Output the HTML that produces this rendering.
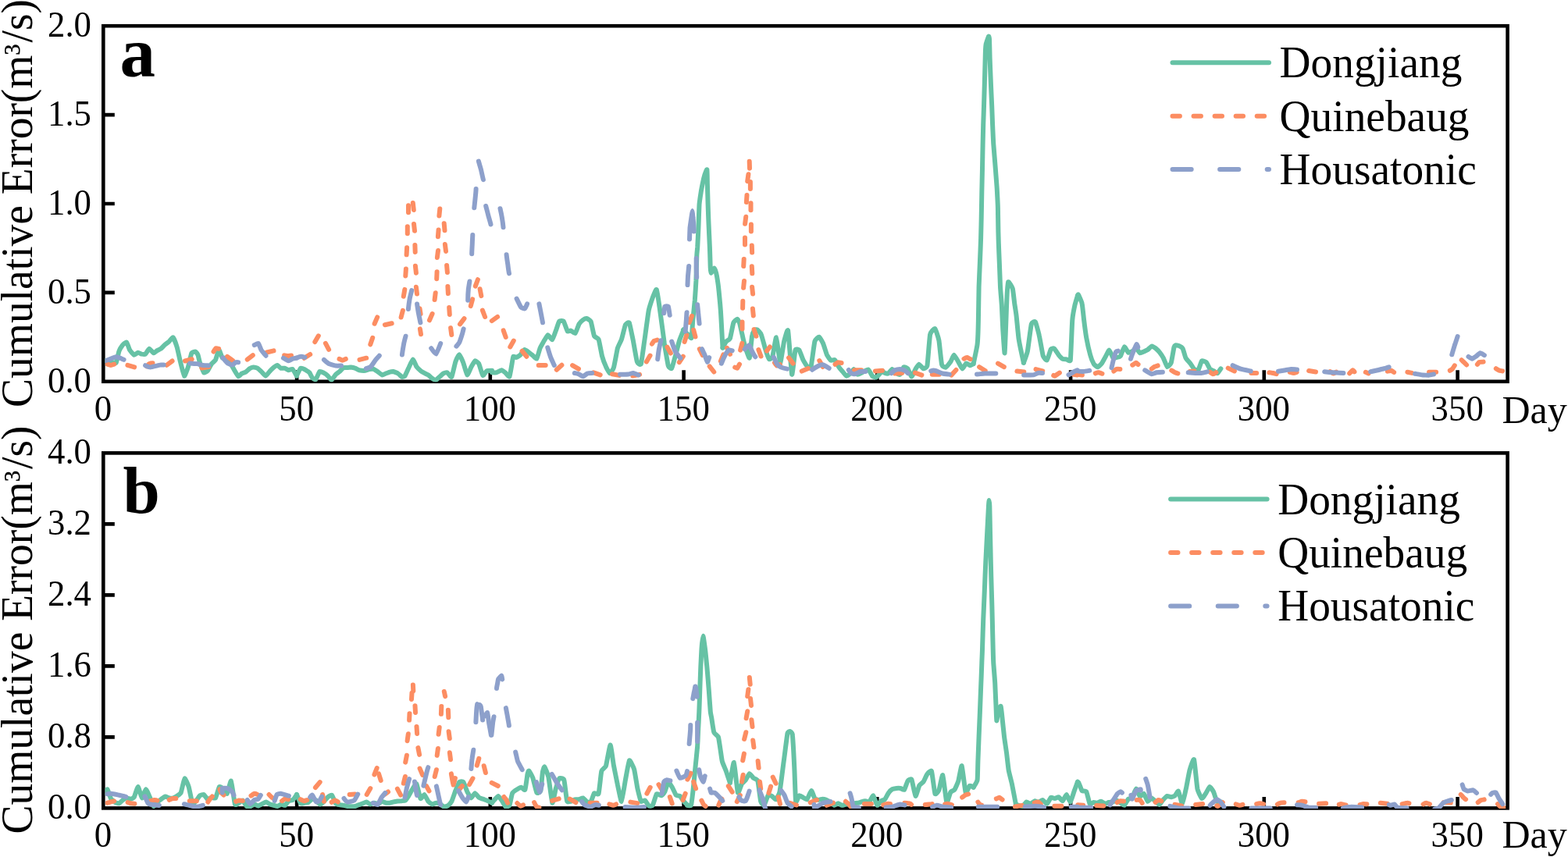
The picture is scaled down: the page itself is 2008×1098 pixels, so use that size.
<!DOCTYPE html>
<html lang="en">
<head>
<meta charset="utf-8">
<title>Cumulative Error</title>
<style>
html,body{margin:0;padding:0;background:#fff;}
body{width:2008px;height:1098px;overflow:hidden;}
svg{display:block;}
text{font-family:"Liberation Serif",serif;fill:#000;}
.tk{font-size:45.5px;}
.lg{font-size:57.2px;}
.ax{font-size:58px;}
.dy{font-size:51.5px;}
.pl{font-size:85px;font-weight:bold;}
.ln{fill:none;stroke-width:6.0;stroke-linecap:round;stroke-linejoin:round;}
.g{stroke:#66c2a5;}
.o{stroke:#fc8d62;}
.b{stroke:#8da0cb;}
.fr{fill:none;stroke:#000;stroke-width:4.6;}
</style>
</head>
<body>
<svg width="2008" height="1098" viewBox="0 0 2008 1098">
<rect x="0" y="0" width="2008" height="1098" fill="#fff"/>
<g id="panel-a">
<path class="fr" d="M380.1 488.8 V474.3 M627.8 488.8 V474.3 M875.6 488.8 V474.3 M1123.3 488.8 V474.3 M1371.1 488.8 V474.3 M1618.8 488.8 V474.3 M1866.6 488.8 V474.3 M132.3 374.9 H146.8 M132.3 261.0 H146.8 M132.3 147.1 H146.8"/>
<rect class="fr" x="132.3" y="33.2" width="1798.3" height="455.6"/>
<clipPath id="clip-a"><rect x="134.6" y="33.2" width="1793.7" height="456.2"/></clipPath>
<g clip-path="url(#clip-a)">
<path class="ln g" d="M132.4 461.7 C132.8 461.7 136.6 462.1 137.5 462.3 C138.3 462.5 142.9 464.0 143.7 464.2 C144.6 464.4 148.1 465.9 148.7 464.8 C149.4 463.7 151.8 451.5 152.5 449.8 C153.1 448.2 156.1 443.2 156.8 442.3 C157.6 441.5 161.5 438.1 162.2 438.6 C162.9 439.1 165.5 447.4 166.2 448.6 C166.9 449.8 171.0 454.6 171.8 454.8 C172.6 455.1 176.1 451.8 176.8 451.7 C177.5 451.6 180.4 453.4 181.1 453.6 C181.8 453.7 185.4 454.3 186.1 453.8 C186.9 453.3 190.3 446.8 191.1 446.7 C191.9 446.6 196.0 452.1 196.7 452.3 C197.5 452.5 200.4 449.6 201.1 449.2 C201.8 448.8 205.3 447.3 206.1 446.7 C206.8 446.2 210.3 442.4 211.1 441.7 C211.8 441.1 215.3 438.7 216.1 438.0 C216.9 437.3 220.9 431.9 221.7 432.4 C222.5 432.9 226.0 442.5 226.7 444.8 C227.4 447.2 230.3 460.8 231.0 463.6 C231.7 466.3 235.3 481.2 236.0 481.7 C236.8 482.1 240.3 472.0 241.0 469.8 C241.7 467.6 244.7 453.8 245.4 452.3 C246.1 450.9 249.8 450.3 250.4 450.5 C251.0 450.6 253.1 453.8 253.5 454.8 C253.9 455.9 255.4 463.1 256.0 464.8 C256.6 466.5 260.2 476.5 261.0 477.3 C261.7 478.0 265.2 475.6 266.0 474.8 C266.7 473.9 270.2 467.1 271.0 466.1 C271.7 465.0 275.3 462.4 276.0 461.1 C276.7 459.7 279.7 448.2 280.3 448.0 C281.0 447.8 284.0 457.8 284.7 458.6 C285.4 459.4 288.9 458.1 289.7 458.6 C290.4 459.0 293.9 463.7 294.7 464.8 C295.4 465.9 298.9 472.2 299.7 473.5 C300.5 474.9 304.5 481.9 305.3 482.3 C306.0 482.7 308.9 479.0 309.6 478.5 C310.3 478.1 313.9 477.1 314.6 476.7 C315.4 476.2 318.9 472.8 319.6 472.3 C320.4 471.8 323.9 470.5 324.6 470.4 C325.4 470.4 328.9 471.3 329.6 471.7 C330.3 472.1 333.8 475.3 334.6 476.0 C335.4 476.8 339.4 481.7 340.2 481.7 C341.0 481.7 344.4 476.8 345.2 476.0 C345.9 475.2 349.4 471.7 350.2 471.0 C350.9 470.4 354.5 467.9 355.2 467.9 C355.9 468.0 358.8 471.4 359.5 471.7 C360.2 472.0 363.8 471.5 364.5 471.7 C365.3 471.9 368.8 474.1 369.5 474.2 C370.3 474.3 373.7 472.4 374.5 472.9 C375.3 473.5 379.6 481.0 380.0 481.7"/>
<path class="ln g" d="M380.0 481.0 C380.4 480.3 384.2 472.2 385.0 471.7 C385.8 471.1 389.8 473.1 390.6 473.5 C391.4 474.0 395.5 476.5 396.2 477.3 C396.9 478.1 399.4 483.5 400.0 484.1 C400.6 484.8 403.6 486.9 404.3 486.3 C405.0 485.7 408.5 476.7 409.3 476.0 C410.1 475.4 414.1 477.5 414.9 477.9 C415.7 478.3 419.2 481.0 419.9 481.7 C420.6 482.3 423.8 487.0 424.5 486.9 C425.3 486.8 429.1 480.6 429.9 479.8 C430.7 479.0 434.1 476.7 434.9 476.0 C435.6 475.4 439.1 471.4 439.9 471.0 C440.6 470.7 444.2 471.1 444.9 471.0 C445.6 471.0 448.5 470.4 449.2 470.4 C450.0 470.5 454.1 471.4 454.9 471.7 C455.6 472.0 458.9 473.9 459.8 474.2 C460.8 474.4 466.9 474.9 467.9 474.8 C469.0 474.7 472.8 473.1 473.6 472.9 C474.4 472.8 477.8 472.7 478.6 472.9 C479.3 473.2 482.7 475.5 483.5 476.0 C484.3 476.6 488.4 480.2 489.2 480.4 C490.0 480.6 493.4 478.8 494.1 478.5 C494.9 478.3 498.4 476.8 499.1 476.7 C499.8 476.5 502.7 475.9 503.5 476.0 C504.3 476.2 508.9 478.0 509.7 478.5 C510.6 479.0 514.1 482.7 514.7 482.9 C515.4 483.1 517.8 482.5 518.5 481.7 C519.1 480.8 522.7 472.6 523.5 471.0 C524.2 469.5 528.0 460.5 528.7 460.4 C529.5 460.3 532.7 468.7 533.4 469.8 C534.2 470.9 537.7 474.2 538.4 474.8 C539.2 475.4 542.7 477.5 543.4 477.9 C544.2 478.3 547.7 479.9 548.4 480.4 C549.2 480.9 552.7 484.3 553.4 484.8 C554.1 485.3 557.4 487.0 558.1 486.9 C558.8 486.8 562.0 483.5 562.8 482.9 C563.5 482.3 567.0 479.0 567.7 478.5 C568.5 478.1 571.9 477.0 572.7 477.3 C573.5 477.6 577.6 483.9 578.4 482.9 C579.1 481.9 582.6 465.7 583.3 463.6 C584.1 461.4 587.3 454.1 588.1 454.2 C588.8 454.3 592.6 462.8 593.3 464.8 C594.1 466.8 597.6 480.0 598.3 480.4 C599.1 480.8 602.6 471.8 603.3 470.4 C604.1 469.1 607.5 462.6 608.3 462.3 C609.0 462.0 612.5 464.7 613.3 466.1 C614.0 467.5 617.5 480.3 618.3 481.0 C619.0 481.7 622.4 475.9 623.3 475.4 C624.1 474.9 629.5 474.8 630.0 474.8"/>
<path class="ln g" d="M630.0 477.3 C630.4 477.3 634.7 477.5 635.6 477.3 C636.5 477.1 641.6 474.1 642.5 474.2 C643.4 474.2 646.7 477.3 647.5 477.9 C648.2 478.5 651.8 483.4 652.5 482.5 C653.1 481.6 655.2 468.0 655.6 466.1 C655.9 464.1 657.0 457.3 657.4 456.7 C657.9 456.1 660.5 458.1 661.2 457.9 C661.8 457.8 665.4 455.6 666.2 454.8 C667.0 454.1 670.9 448.2 671.8 448.0 C672.6 447.7 676.6 451.1 677.4 451.7 C678.2 452.3 681.6 454.9 682.4 455.5 C683.1 456.0 686.7 460.2 687.4 459.4 C688.1 458.7 691.0 447.2 691.8 445.5 C692.5 443.8 696.0 438.0 696.7 436.7 C697.5 435.5 700.9 429.4 701.7 429.2 C702.5 429.1 706.6 435.6 707.3 435.1 C708.1 434.6 711.7 424.1 712.3 422.4 C713.0 420.6 715.4 412.6 716.1 411.8 C716.8 411.0 720.9 410.6 721.7 411.5 C722.5 412.5 726.0 423.4 726.7 424.3 C727.4 425.2 730.3 423.4 731.0 423.6 C731.8 423.8 735.9 427.7 736.7 427.0 C737.5 426.3 740.9 416.2 741.7 414.9 C742.4 413.6 745.9 410.4 746.6 409.9 C747.3 409.4 750.3 407.9 751.0 408.0 C751.8 408.2 755.9 410.1 756.6 411.8 C757.4 413.5 760.2 428.8 761.0 430.5 C761.7 432.2 765.9 432.9 766.6 434.9 C767.4 436.8 770.3 453.5 771.0 456.1 C771.7 458.7 775.2 468.1 776.0 469.8 C776.7 471.5 780.2 478.1 780.9 478.2 C781.7 478.3 785.2 473.5 785.9 471.0 C786.7 468.6 790.2 448.8 790.9 446.1 C791.7 443.4 795.2 437.1 795.9 434.9 C796.7 432.6 800.2 417.7 800.9 416.1 C801.7 414.6 805.1 412.1 805.9 413.7 C806.6 415.2 810.1 433.0 810.9 436.7 C811.6 440.5 815.1 461.3 815.9 463.6 C816.6 465.7 820.2 468.5 820.9 466.3 C821.6 464.0 825.1 437.5 825.9 432.4 C826.6 427.2 830.1 401.3 830.8 397.4 C831.6 393.6 835.1 383.2 835.8 381.2 C836.6 379.2 840.1 369.6 840.8 371.2 C841.6 372.8 845.1 397.3 845.8 402.4 C846.6 407.6 850.1 434.9 850.8 439.9 C851.6 444.8 855.1 466.1 855.8 468.6 C856.4 470.7 859.5 473.0 860.2 471.9 C860.9 470.9 864.4 457.5 865.2 454.8 C865.9 452.1 869.4 438.5 870.1 436.1 C870.9 433.7 875.1 423.4 875.5 422.4"/>
<path class="ln g" d="M875.0 422.5 C875.4 422.9 879.7 427.2 880.5 428.0 C881.3 428.8 885.0 434.4 885.5 433.0 C886.0 431.6 887.0 413.4 887.3 409.8 C887.6 406.2 889.5 388.5 889.8 384.8 C890.1 381.1 891.2 364.2 891.4 359.9 C891.6 355.6 892.2 330.6 892.3 327.4 C892.4 324.2 893.0 319.6 893.2 317.0 C893.4 314.4 894.2 296.5 894.4 292.3 C894.6 288.1 895.3 264.7 895.6 261.1 C895.9 257.5 897.6 246.9 897.9 244.9 C898.2 242.9 899.5 236.4 899.8 234.9 C900.1 233.4 901.9 225.8 902.3 224.5 C902.7 223.2 905.1 216.4 905.4 217.3 C905.7 218.2 905.8 232.8 905.9 236.1 C906.0 239.4 906.5 257.4 906.6 261.1 C906.7 264.8 907.3 281.8 907.5 286.0 C907.7 290.2 908.7 312.8 908.9 317.0 C909.1 321.2 909.6 339.9 909.7 342.4 C909.8 344.9 910.2 349.8 910.6 349.9 C911.0 350.0 914.2 343.6 914.7 343.6 C915.2 343.6 916.8 348.3 917.2 349.9 C917.6 351.5 919.3 361.9 919.7 364.9 C920.1 367.9 921.9 386.5 922.2 389.8 C922.5 393.1 923.3 404.3 923.5 408.5 C923.7 412.7 925.4 442.7 925.5 445.5"/>
<path class="ln g" d="M925.5 445.5 C925.9 444.9 929.2 438.2 929.9 437.4 C930.6 436.5 934.2 435.4 934.9 433.6 C935.6 431.8 938.6 415.5 939.3 413.7 C940.0 411.8 943.6 408.6 944.2 408.7 C944.9 408.8 946.9 413.4 947.4 414.9 C947.8 416.4 949.9 426.3 950.5 428.6 C951.0 431.0 954.1 443.8 954.9 446.1 C955.6 448.3 959.2 459.7 959.8 458.6 C960.4 457.4 962.5 433.8 963.0 431.1 C963.4 428.5 965.6 423.7 966.1 423.0 C966.6 422.4 969.2 422.0 969.8 422.4 C970.5 422.8 974.1 426.8 974.8 428.6 C975.6 430.4 979.1 443.8 979.8 446.1 C980.5 448.4 984.1 459.0 984.8 459.8 C985.5 460.7 988.5 459.2 989.2 457.3 C989.9 455.3 993.4 431.8 994.1 432.4 C994.9 432.9 998.4 464.4 999.1 464.8 C999.9 465.2 1003.4 440.4 1004.1 437.4 C1004.9 434.3 1008.4 420.5 1009.1 423.6 C1009.9 426.8 1013.4 477.9 1014.1 479.8 C1014.8 481.7 1017.8 450.9 1018.5 448.6 C1019.0 446.7 1022.7 447.7 1023.5 448.6 C1024.2 449.5 1027.7 459.5 1028.5 461.1 C1029.2 462.7 1033.3 469.1 1034.1 469.8 C1034.8 470.5 1037.9 472.8 1038.4 471.0 C1039.1 468.6 1042.6 440.3 1043.4 437.4 C1044.2 434.4 1048.2 431.6 1049.0 431.7 C1049.8 431.9 1053.3 438.1 1054.0 439.9 C1054.8 441.6 1058.3 453.2 1059.0 454.8 C1059.8 456.5 1063.3 461.2 1064.0 461.7 C1064.8 462.2 1068.2 460.5 1069.0 461.1 C1069.7 461.7 1073.2 468.7 1074.0 469.8 C1074.7 470.9 1078.2 475.1 1079.0 476.0 C1079.7 476.9 1083.2 481.5 1084.0 481.7 C1084.7 481.8 1088.3 479.2 1089.0 478.5 C1089.7 477.9 1092.6 472.8 1093.3 472.9 C1094.0 473.0 1097.5 479.5 1098.3 479.8 C1099.1 480.1 1102.9 477.8 1103.9 477.3 C1105.0 476.8 1111.1 473.2 1112.0 473.5 C1113.0 473.9 1116.3 480.9 1117.0 481.7 C1117.8 482.4 1121.3 483.8 1122.0 483.5 C1122.8 483.3 1126.4 479.1 1127.0 478.5 C1127.6 477.9 1129.8 475.6 1130.0 475.4"/>
<path class="ln g" d="M1130.0 475.4 C1130.2 475.6 1132.6 477.7 1133.1 477.9 C1133.7 478.1 1136.8 478.9 1137.5 478.5 C1138.2 478.2 1141.7 473.0 1142.5 472.9 C1143.2 472.9 1146.7 477.4 1147.5 477.9 C1148.2 478.4 1151.7 480.3 1152.5 479.8 C1153.2 479.2 1156.7 471.0 1157.4 470.4 C1158.2 469.9 1161.7 471.4 1162.4 472.3 C1163.2 473.2 1166.7 482.5 1167.4 482.5 C1168.2 482.6 1171.7 474.1 1172.4 472.9 C1173.1 471.7 1176.0 466.7 1176.8 466.7 C1177.5 466.6 1181.6 472.2 1182.4 472.3 C1183.2 472.4 1186.9 471.0 1187.4 468.6 C1188.0 465.3 1190.4 432.2 1191.1 428.6 C1191.9 425.1 1196.5 420.6 1197.4 421.1 C1198.2 421.7 1201.7 432.6 1202.4 436.1 C1203.0 439.6 1205.4 464.7 1206.1 467.3 C1206.7 469.6 1210.2 471.0 1211.1 470.7 C1211.9 470.4 1216.5 464.7 1217.3 463.6 C1218.1 462.4 1220.9 454.8 1221.7 454.8 C1222.4 454.8 1226.5 462.2 1227.3 463.6 C1228.1 464.9 1231.5 472.4 1232.3 472.5 C1233.0 472.7 1236.5 465.8 1237.3 465.4 C1238.0 465.1 1241.6 468.1 1242.3 468.2 C1243.0 468.2 1246.3 466.2 1246.6 466.1"/>
<path class="ln g" d="M1246.6 466.0 C1247.0 464.1 1251.1 445.3 1251.6 441.1 C1252.1 436.9 1252.8 415.4 1252.9 409.9 C1253.1 404.4 1253.4 372.8 1253.6 367.3 C1253.8 361.8 1254.7 340.8 1254.9 336.1 C1255.1 331.4 1256.0 309.2 1256.1 305.0 C1256.2 300.8 1256.6 284.3 1256.7 280.0 C1256.8 275.7 1257.2 252.1 1257.3 247.3 C1257.4 242.5 1257.9 220.7 1258.0 216.0 C1258.1 211.3 1258.5 189.2 1258.6 185.0 C1258.7 180.8 1259.1 163.7 1259.2 160.0 C1259.3 156.3 1259.9 140.1 1260.0 136.0 C1260.1 131.9 1260.8 110.0 1260.9 105.0 C1261.0 100.0 1261.7 73.6 1261.8 70.0 C1261.9 66.4 1262.3 58.8 1262.6 57.0 C1262.9 55.2 1265.8 47.1 1266.1 46.6 C1266.4 46.1 1266.9 48.6 1267.0 50.0 C1267.1 52.0 1267.5 69.6 1267.6 73.7 C1267.7 77.8 1268.6 100.2 1268.8 104.9 C1269.0 109.6 1270.0 131.9 1270.2 136.0 C1270.4 140.1 1270.9 156.3 1271.1 160.0 C1271.3 163.7 1272.0 180.8 1272.3 185.0 C1272.6 189.2 1274.5 211.9 1274.8 216.1 C1275.1 220.3 1276.5 237.4 1276.7 241.1 C1276.9 244.8 1277.8 261.8 1277.9 266.0 C1278.0 270.2 1278.3 293.6 1278.4 297.0 C1278.5 300.4 1278.7 308.3 1278.8 311.2 C1278.9 314.1 1279.6 331.9 1279.8 336.1 C1280.0 340.3 1280.8 363.1 1281.0 367.3 C1281.2 371.5 1282.7 388.2 1282.9 392.3 C1283.1 396.4 1284.0 417.9 1284.3 422.4 C1284.6 426.9 1286.3 453.4 1286.6 452.5 C1286.9 451.6 1288.2 415.3 1288.4 409.9 C1288.6 404.5 1289.3 383.7 1289.5 380.0 C1289.7 376.3 1290.7 362.0 1291.2 361.2 C1291.7 360.4 1296.2 367.7 1296.8 369.9 C1297.4 372.1 1299.0 387.4 1299.4 390.0 C1299.8 392.6 1301.2 401.4 1301.6 404.8 C1302.0 408.2 1304.0 430.4 1304.7 434.9 C1305.4 439.4 1310.4 462.6 1310.9 464.8"/>
<path class="ln g" d="M1310.9 464.8 C1311.3 463.7 1315.1 453.6 1315.9 449.8 C1316.6 446.1 1320.1 417.7 1320.9 414.9 C1321.4 412.7 1325.1 411.3 1325.9 412.4 C1326.6 413.5 1330.1 426.6 1330.8 429.9 C1331.6 433.1 1335.1 453.7 1335.8 456.1 C1336.6 458.4 1340.1 462.0 1340.8 461.3 C1341.6 460.7 1345.1 448.4 1345.8 447.3 C1346.5 446.2 1349.4 446.2 1350.2 446.7 C1350.9 447.3 1355.0 453.8 1355.8 454.8 C1356.6 455.8 1360.0 459.4 1360.8 459.8 C1361.5 460.2 1365.0 460.3 1365.8 460.4 C1366.5 460.6 1370.5 463.7 1370.8 461.7 C1371.3 457.9 1372.8 415.2 1373.3 409.9 C1373.7 404.6 1375.9 393.5 1376.4 391.2 C1376.9 388.9 1379.7 379.7 1380.0 378.7"/>
<path class="ln g" d="M1380.0 378.7 C1380.1 378.6 1380.6 376.9 1380.9 377.5 C1381.3 378.2 1385.1 386.3 1385.6 388.7 C1386.2 391.1 1387.7 406.6 1388.1 409.9 C1388.5 413.2 1390.6 429.0 1391.2 432.4 C1391.8 435.7 1395.5 452.3 1396.2 454.8 C1396.9 457.4 1399.9 464.9 1400.6 466.1 C1401.3 467.2 1404.8 470.3 1405.6 470.3 C1406.3 470.3 1409.8 467.0 1410.6 466.1 C1411.3 465.1 1414.8 458.6 1415.6 457.3 C1416.3 456.0 1419.8 448.5 1420.5 448.6 C1421.3 448.7 1424.8 457.9 1425.5 458.6 C1426.3 459.3 1429.8 458.1 1430.5 457.9 C1431.2 457.8 1434.2 457.1 1434.9 456.1 C1435.6 455.0 1439.1 444.5 1439.9 444.2 C1440.6 443.9 1444.1 451.3 1444.9 451.7 C1445.7 452.1 1449.7 450.3 1450.5 449.8 C1451.2 449.4 1454.1 445.9 1454.9 446.1 C1455.6 446.3 1459.1 452.0 1459.8 452.3 C1460.6 452.7 1464.1 450.8 1464.8 450.5 C1465.6 450.1 1469.1 448.5 1469.8 448.0 C1470.6 447.4 1474.1 443.7 1474.8 443.6 C1475.6 443.5 1479.1 445.5 1479.8 446.1 C1480.5 446.7 1484.0 450.1 1484.8 451.1 C1485.5 452.0 1489.0 457.1 1489.8 458.6 C1490.5 460.0 1494.0 469.6 1494.8 470.0 C1495.5 470.5 1499.1 466.7 1499.8 464.8 C1500.4 462.9 1503.1 446.5 1503.5 444.8 C1503.8 443.6 1504.9 442.5 1505.4 442.3 C1505.8 442.2 1509.0 442.6 1509.7 443.0 C1510.4 443.3 1514.1 445.5 1514.7 446.7 C1515.4 447.9 1517.7 457.1 1518.5 458.6 C1519.2 460.0 1523.9 464.9 1524.7 466.1 C1525.6 467.2 1529.0 473.0 1529.7 473.5 C1530.4 474.1 1534.0 474.4 1534.7 473.5 C1535.4 472.7 1538.3 463.0 1539.1 462.3 C1539.8 461.6 1543.9 463.4 1544.7 464.2 C1545.5 465.0 1548.9 472.1 1549.7 472.9 C1550.4 473.8 1553.9 475.0 1554.7 475.4 C1555.4 475.8 1558.4 478.4 1559.0 478.2 C1559.7 477.9 1563.1 472.7 1563.4 472.3"/>
<path class="ln o" d="M137.5 466.7 C137.8 466.8 141.2 467.9 141.9 467.9 C142.5 467.9 145.9 466.8 146.2 466.7"/>
<path class="ln o" d="M163.4 467.9 L172.1 470.4"/>
<path class="ln o" d="M187.9 469.3 C188.2 469.0 190.6 466.4 191.1 466.1 C191.7 465.8 195.2 465.3 195.5 465.3"/>
<path class="ln o" d="M213.4 467.8 L220.6 462.5"/>
<path class="ln o" d="M237.0 462.5 L245.7 460.2"/>
<path class="ln o" d="M258.4 471.5 L267.3 470.0"/>
<path class="ln o" d="M273.5 450.5 C273.7 450.2 276.1 446.4 276.6 446.1 C277.1 445.8 279.8 446.8 280.1 446.9"/>
<path class="ln o" d="M291.1 456.8 L298.3 462.2"/>
<path class="ln o" d="M316.7 460.7 L323.8 455.2"/>
<path class="ln o" d="M341.7 451.5 L350.5 449.4"/>
<path class="ln o" d="M364.1 455.2 C364.4 455.2 367.6 456.0 368.3 456.1 C368.9 456.1 372.7 455.6 373.0 455.6"/>
<path class="ln o" d="M389.6 458.8 L397.2 454.0"/>
<path class="ln o" d="M403.3 438.1 L407.8 430.3"/>
<path class="ln o" d="M416.9 439.9 L421.1 447.9"/>
<path class="ln o" d="M434.5 459.9 C434.8 460.0 438.0 461.7 438.6 461.7 C439.3 461.7 442.5 460.0 442.8 459.9"/>
<path class="ln o" d="M460.5 460.9 L469.2 458.7"/>
<path class="ln o" d="M474.3 441.3 L477.2 432.8"/>
<path class="ln o" d="M479.6 414.7 L483.2 406.4"/>
<path class="ln o" d="M492.9 416.2 L501.7 414.3"/>
<path class="ln o" d="M513.6 406.5 L515.9 397.8"/>
<path class="ln o" d="M516.8 379.7 L518.3 370.9"/>
<path class="ln o" d="M532.9 367.7 L534.0 376.6"/>
<path class="ln o" d="M537.5 395.2 L538.6 402.1"/>
<path class="ln o" d="M537.9 421.4 L539.0 428.3"/>
<path class="ln o" d="M550.0 410.3 L553.6 402.0"/>
<path class="ln o" d="M556.6 384.1 L557.7 375.2"/>
<path class="ln o" d="M573.4 367.0 L573.9 376.0"/>
<path class="ln o" d="M575.2 393.9 L575.8 402.9"/>
<path class="ln o" d="M577.1 420.1 L578.3 429.0"/>
<path class="ln o" d="M589.0 415.3 L594.5 408.2"/>
<path class="ln o" d="M602.8 392.1 L605.1 383.4"/>
<path class="ln o" d="M614.6 370.2 L616.3 379.1"/>
<path class="ln o" d="M617.9 397.6 L621.1 406.0"/>
<path class="ln o" d="M519.3 353.4 L519.9 344.5"/>
<path class="ln o" d="M520.6 326.3 L521.1 317.3"/>
<path class="ln o" d="M531.4 313.9 L531.7 322.9"/>
<path class="ln o" d="M531.9 340.7 L532.9 349.7"/>
<path class="ln o" d="M559.2 357.2 L559.6 348.2"/>
<path class="ln o" d="M559.9 330.0 L561.0 321.1"/>
<path class="ln o" d="M569.9 313.0 L571.0 321.9"/>
<path class="ln o" d="M572.1 340.1 L572.9 349.1"/>
<path class="ln o" d="M608.8 366.6 L611.9 358.2"/>
<path class="ln o" d="M629.8 411.1 L637.1 405.9"/>
<path class="ln o" d="M523.0 263.2 L523.0 272.2"/>
<path class="ln o" d="M528.8 260.1 L529.8 269.0"/>
<path class="ln o" d="M521.8 290.3 L521.8 299.3"/>
<path class="ln o" d="M530.0 286.9 L531.0 295.8"/>
<path class="ln o" d="M563.3 267.5 L562.4 276.5"/>
<path class="ln o" d="M568.7 286.3 L569.5 295.2"/>
<path class="ln o" d="M561.6 294.4 L560.9 303.3"/>
<path class="ln o" d="M644.7 423.4 L647.7 431.9"/>
<path class="ln o" d="M653.3 444.4 L657.8 436.6"/>
<path class="ln o" d="M668.6 449.8 L674.4 456.7"/>
<path class="ln o" d="M689.7 467.9 L698.7 467.9"/>
<path class="ln o" d="M712.8 473.8 L719.4 467.7"/>
<path class="ln o" d="M733.1 468.1 L740.9 472.7"/>
<path class="ln o" d="M760.1 477.4 L768.7 480.3"/>
<path class="ln o" d="M784.0 479.3 L792.9 480.9"/>
<path class="ln o" d="M810.2 481.5 L819.1 479.9"/>
<path class="ln o" d="M827.9 463.4 L832.5 455.6"/>
<path class="ln o" d="M834.9 440.7 C835.1 440.4 837.2 437.1 837.7 436.7 C838.2 436.4 841.3 435.7 841.6 435.6"/>
<path class="ln o" d="M854.5 444.7 L858.9 452.5"/>
<path class="ln o" d="M869.9 464.2 L874.8 456.7"/>
<path class="ln o" d="M876.6 437.9 L879.3 429.3"/>
<path class="ln o" d="M882.7 413.2 L886.0 404.8"/>
<path class="ln o" d="M888.2 422.7 L890.5 431.4"/>
<path class="ln o" d="M895.8 447.1 L899.8 455.1"/>
<path class="ln o" d="M908.7 469.4 L914.3 476.5"/>
<path class="ln o" d="M922.9 462.7 L926.3 454.4"/>
<path class="ln o" d="M931.0 445.8 L935.0 453.9"/>
<path class="ln o" d="M941.2 470.6 C941.4 470.7 943.8 472.0 944.2 471.7 C944.7 471.4 946.8 467.0 947.0 466.7"/>
<path class="ln o" d="M948.1 448.6 L950.3 439.9"/>
<path class="ln o" d="M950.5 421.6 L950.5 412.6"/>
<path class="ln o" d="M951.1 394.8 L951.3 385.8"/>
<path class="ln o" d="M952.1 368.8 L953.0 359.9"/>
<path class="ln o" d="M963.1 367.7 L964.1 376.6"/>
<path class="ln o" d="M963.9 395.4 L964.8 404.4"/>
<path class="ln o" d="M965.6 422.2 L968.4 430.7"/>
<path class="ln o" d="M971.4 448.1 L974.5 456.5"/>
<path class="ln o" d="M981.9 449.6 L985.9 444.5"/>
<path class="ln o" d="M992.0 464.8 C992.2 465.1 994.3 468.4 994.8 468.6 C995.3 468.7 998.6 467.3 998.9 467.2"/>
<path class="ln o" d="M1010.1 458.4 L1015.6 465.6"/>
<path class="ln o" d="M1026.8 475.6 L1035.1 472.1"/>
<path class="ln o" d="M1049.3 462.1 L1053.8 470.0"/>
<path class="ln o" d="M1069.5 466.8 C1069.8 466.6 1072.8 464.3 1073.4 464.2 C1074.0 464.1 1077.3 465.0 1077.6 465.0"/>
<path class="ln o" d="M1094.1 474.2 L1103.1 474.2"/>
<path class="ln o" d="M1120.9 475.4 L1129.9 474.8"/>
<path class="ln o" d="M954.0 304.5 L954.0 313.5"/>
<path class="ln o" d="M952.7 332.0 L952.2 341.0"/>
<path class="ln o" d="M962.8 314.5 L963.1 323.5"/>
<path class="ln o" d="M962.8 341.3 L963.3 350.3"/>
<path class="ln o" d="M959.7 206.7 L960.0 215.7"/>
<path class="ln o" d="M957.2 232.2 L958.4 223.3"/>
<path class="ln o" d="M960.9 232.9 L960.9 241.9"/>
<path class="ln o" d="M955.9 259.0 L956.5 250.1"/>
<path class="ln o" d="M961.5 260.3 L961.5 269.3"/>
<path class="ln o" d="M954.1 286.8 L955.2 277.8"/>
<path class="ln o" d="M961.9 287.5 L961.9 296.5"/>
<path class="ln o" d="M1146.1 478.5 L1155.1 477.9"/>
<path class="ln o" d="M1171.9 477.7 L1180.4 480.6"/>
<path class="ln o" d="M1193.8 479.8 L1202.8 479.8"/>
<path class="ln o" d="M1218.3 480.6 L1224.4 474.0"/>
<path class="ln o" d="M1234.5 459.7 C1234.8 459.5 1237.9 457.9 1238.5 457.9 C1239.1 458.0 1242.3 460.1 1242.6 460.2"/>
<path class="ln o" d="M1254.1 470.2 L1261.7 475.0"/>
<path class="ln o" d="M1278.0 465.6 L1285.8 470.2"/>
<path class="ln o" d="M1302.4 475.5 L1311.3 476.6"/>
<path class="ln o" d="M1326.5 473.1 L1335.2 475.3"/>
<path class="ln o" d="M1349.2 481.0 C1349.4 481.1 1350.2 481.9 1350.8 481.7 C1351.4 481.4 1356.4 477.9 1356.9 477.6"/>
<path class="ln o" d="M1374.8 479.8 L1379.7 480.4"/>
<path class="ln o" d="M1380.3 479.8 L1385.9 480.4"/>
<path class="ln o" d="M1402.8 478.3 C1403.1 478.2 1406.2 477.2 1406.8 477.3 C1407.5 477.3 1411.1 478.7 1411.5 478.8"/>
<path class="ln o" d="M1426.3 475.6 C1426.6 475.4 1429.3 473.1 1429.9 472.9 C1430.5 472.7 1434.1 472.9 1434.4 472.9"/>
<path class="ln o" d="M1450.2 467.7 C1450.6 467.5 1454.3 464.9 1454.9 464.8 C1455.4 464.8 1457.4 466.9 1457.6 467.0"/>
<path class="ln o" d="M1474.8 472.6 C1475.1 472.4 1478.0 470.1 1478.6 469.8 C1479.1 469.5 1482.4 468.5 1482.7 468.4"/>
<path class="ln o" d="M1500.3 474.6 C1500.6 474.8 1504.1 477.0 1504.8 477.3 C1505.4 477.6 1508.1 478.4 1508.4 478.5"/>
<path class="ln o" d="M1523.8 476.0 L1529.4 475.4"/>
<path class="ln o" d="M1549.5 476.7 C1549.8 476.9 1552.8 479.1 1553.4 479.2 C1554.0 479.2 1557.0 477.4 1557.3 477.2"/>
<path class="ln o" d="M1572.7 471.6 L1580.9 475.5"/>
<path class="ln o" d="M1602.4 477.9 L1609.2 477.9"/>
<path class="ln o" d="M1625.4 477.3 L1629.7 477.9"/>
<path class="ln o" d="M1630.3 478.0 L1634.7 479.1"/>
<path class="ln o" d="M1651.8 476.8 C1652.2 476.9 1656.2 477.9 1656.8 477.9 C1657.5 477.9 1660.3 476.9 1660.6 476.8"/>
<path class="ln o" d="M1676.1 475.0 L1685.0 476.5"/>
<path class="ln o" d="M1703.4 476.1 C1703.7 476.3 1706.8 478.5 1707.3 478.5 C1707.9 478.6 1710.9 476.7 1711.2 476.6"/>
<path class="ln o" d="M1728.2 478.3 C1728.5 478.0 1731.8 474.3 1732.3 474.2 C1732.8 474.0 1734.4 476.2 1734.5 476.4"/>
<path class="ln o" d="M1748.8 476.8 L1752.6 478.4"/>
<path class="ln o" d="M1776.9 475.7 C1777.3 475.7 1781.0 474.7 1781.6 474.8 C1782.2 474.9 1784.9 476.9 1785.2 477.0"/>
<path class="ln o" d="M1802.4 476.7 L1808.1 477.9"/>
<path class="ln o" d="M1830.1 476.7 L1839.1 476.7"/>
<path class="ln o" d="M1856.8 474.8 C1857.0 474.7 1859.7 472.8 1860.2 472.3 C1860.6 471.8 1862.6 468.6 1862.8 468.3"/>
<path class="ln o" d="M1871.7 461.2 C1872.0 461.4 1874.7 464.2 1875.2 464.7 C1875.7 465.1 1877.9 467.3 1878.1 467.5"/>
<path class="ln o" d="M1891.9 466.9 C1892.1 466.7 1893.8 464.3 1894.4 464.0 C1895.0 463.8 1899.2 463.7 1899.6 463.6"/>
<path class="ln o" d="M1915.8 472.2 C1916.1 472.4 1919.2 474.3 1919.8 474.6 C1920.4 474.8 1923.8 475.3 1924.1 475.4"/>
<path class="ln b" d="M135.7 462.0 C136.7 461.7 147.0 457.4 148.7 457.3 C150.4 457.2 157.8 460.5 158.6 460.8"/>
<path class="ln b" d="M186.1 468.2 C186.6 468.4 191.0 470.5 192.4 470.4 C193.8 470.4 203.6 467.8 204.9 467.6 C206.2 467.3 209.3 467.6 209.7 467.6"/>
<path class="ln b" d="M243.0 465.5 C243.7 465.6 251.0 465.9 252.3 466.1 C253.5 466.2 258.6 467.8 259.7 467.9 C260.9 468.1 266.5 468.2 267.1 468.2"/>
<path class="ln b" d="M285.4 458.4 C285.8 458.9 290.0 464.1 290.9 464.8 C291.8 465.5 296.3 467.6 297.2 467.6 C298.0 467.5 301.6 464.4 302.2 464.2 C302.8 463.9 304.9 464.2 305.1 464.2"/>
<path class="ln b" d="M325.7 442.1 C326.1 442.0 330.2 439.4 330.8 439.9 C331.5 440.3 333.9 447.4 334.6 448.6 C335.3 449.8 340.0 455.1 340.5 455.7"/>
<path class="ln b" d="M362.9 458.7 C363.4 459.0 368.7 462.2 369.5 462.3 C370.4 462.4 373.7 460.1 374.5 459.8 C375.3 459.5 379.3 458.7 379.7 458.6"/>
<path class="ln b" d="M380.3 458.5 C380.7 458.3 384.9 456.7 385.6 456.7 C386.4 456.7 390.0 457.8 390.3 457.9"/>
<path class="ln b" d="M414.9 460.9 C415.4 461.3 420.0 465.5 421.2 466.1 C422.3 466.6 428.7 468.4 429.9 468.6 C431.1 468.7 436.5 468.6 437.0 468.6"/>
<path class="ln b" d="M468.9 472.2 C469.3 472.0 473.9 470.6 474.8 469.8 C475.7 469.0 480.2 462.1 481.0 461.1 C481.9 460.0 485.5 456.1 485.8 455.7"/>
<path class="ln b" d="M514.9 454.6 C515.0 453.5 516.9 441.6 517.2 439.9 C517.6 438.1 519.3 431.4 519.5 430.7"/>
<path class="ln b" d="M522.9 396.0 C523.0 394.9 524.4 384.3 524.7 382.5 C525.0 380.7 527.0 372.9 527.2 372.1"/>
<path class="ln b" d="M534.1 389.5 C534.2 390.4 535.6 399.4 535.9 401.2 C536.3 403.0 538.2 412.5 538.4 413.4"/>
<path class="ln b" d="M552.2 446.2 C552.6 446.8 557.5 454.0 558.4 453.6 C559.3 453.1 563.8 441.1 564.2 440.1"/>
<path class="ln b" d="M584.4 443.6 C584.7 443.2 587.8 439.8 588.3 438.6 C588.9 437.4 591.7 428.7 592.1 427.4 C592.5 426.1 593.4 421.9 593.6 421.5"/>
<path class="ln b" d="M599.2 384.7 C599.2 383.7 599.6 372.9 599.8 371.1 C599.9 369.3 601.3 361.4 601.4 360.6"/>
<path class="ln b" d="M648.6 326.3 C648.7 327.2 650.0 336.9 650.3 338.7 C650.5 340.5 651.8 349.5 652.0 350.4"/>
<path class="ln b" d="M661.6 382.6 C662.0 383.4 666.3 392.6 667.1 393.6 C667.9 394.5 671.5 395.7 672.1 395.4 C672.7 395.1 674.9 389.9 675.1 389.4"/>
<path class="ln b" d="M690.4 389.4 C690.6 390.3 692.4 399.3 692.7 401.0 C693.0 402.8 694.9 412.4 695.0 413.3"/>
<path class="ln b" d="M605.3 301.1 C605.3 301.9 604.8 310.4 604.8 312.3 C604.7 314.1 604.2 324.4 604.2 325.3"/>
<path class="ln b" d="M609.6 242.1 C609.6 243.1 608.7 253.0 608.5 254.9 C608.3 256.7 607.4 265.5 607.3 266.3"/>
<path class="ln b" d="M612.9 206.6 C613.1 207.4 615.5 215.7 616.0 217.4 C616.4 219.2 618.6 229.2 618.9 230.1"/>
<path class="ln b" d="M622.2 264.0 C622.4 264.9 624.9 274.3 625.3 276.1 C625.8 277.8 628.3 286.6 628.5 287.5"/>
<path class="ln b" d="M640.5 267.2 C640.7 268.1 642.5 276.8 642.8 278.6 C643.1 280.4 644.4 290.2 644.5 291.2"/>
<path class="ln b" d="M701.3 445.3 C701.6 446.3 704.8 456.9 705.5 458.6 C706.1 460.3 709.5 467.3 709.8 468.0"/>
<path class="ln b" d="M735.8 478.0 C736.2 478.1 740.2 478.8 741.0 479.2 C741.8 479.5 745.8 482.3 746.6 482.3 C747.5 482.2 751.4 478.9 752.3 478.5 C753.1 478.2 757.6 478.0 758.1 478.0"/>
<path class="ln b" d="M794.1 479.8 C794.9 479.7 803.4 479.7 804.7 479.5 C805.9 479.4 809.9 477.8 810.9 477.9 C811.9 478.0 817.2 480.3 817.7 480.5"/>
<path class="ln b" d="M842.2 460.2 C842.3 459.3 843.6 449.1 843.9 447.3 C844.3 445.5 846.1 437.1 846.3 436.3"/>
<path class="ln b" d="M850.2 401.3 C850.3 400.6 851.0 393.3 851.4 392.7 C851.9 392.0 855.3 391.9 855.8 392.7 C856.3 393.5 857.5 402.9 857.7 403.8"/>
<path class="ln b" d="M860.2 437.5 C860.5 438.4 863.7 448.2 864.5 449.8 C865.4 451.4 870.7 458.1 871.3 458.8"/>
<path class="ln b" d="M877.7 424.5 C877.8 423.4 878.7 411.7 878.9 409.9 C879.0 408.1 879.4 401.0 879.5 400.3"/>
<path class="ln b" d="M893.1 390.3 C893.2 391.2 894.2 400.6 894.3 402.4 C894.5 404.2 895.5 413.6 895.6 414.5"/>
<path class="ln b" d="M898.9 447.1 C899.2 447.7 901.9 453.6 902.5 454.8 C903.0 456.1 905.4 463.6 905.8 463.8 C906.3 464.1 908.0 458.5 908.2 458.1"/>
<path class="ln b" d="M923.9 465.7 C924.2 464.9 928.0 456.1 928.7 454.8 C929.3 453.5 932.3 449.0 933.0 448.6 C933.7 448.2 937.4 449.3 937.7 449.4"/>
<path class="ln b" d="M953.7 447.3 C954.1 446.9 958.5 442.2 959.2 442.3 C959.9 442.5 962.4 448.7 963.0 449.8 C963.6 451.0 966.9 456.7 967.3 457.2"/>
<path class="ln b" d="M990.9 457.8 C991.2 458.4 994.1 465.1 994.8 466.1 C995.4 467.0 998.8 469.9 999.8 470.4 C1000.8 470.9 1007.4 472.5 1008.0 472.6"/>
<path class="ln b" d="M1040.1 473.7 C1040.6 473.3 1046.2 469.7 1047.2 469.2 C1048.2 468.7 1052.3 467.1 1053.4 467.3 C1054.5 467.5 1061.1 471.4 1061.7 471.8"/>
<path class="ln b" d="M1086.8 474.0 C1087.0 474.3 1089.0 477.5 1089.6 477.9 C1090.2 478.3 1093.6 479.3 1094.6 479.2 C1095.5 479.0 1101.0 476.3 1102.1 476.0 C1103.1 475.8 1107.9 476.0 1108.3 476.0"/>
<path class="ln b" d="M882.2 340.9 C882.1 341.8 881.2 351.8 881.0 353.6 C880.9 355.5 880.5 364.3 880.5 365.1"/>
<path class="ln b" d="M891.7 330.9 C891.7 331.8 891.6 341.8 891.7 343.7 C891.7 345.5 892.2 354.3 892.2 355.2"/>
<path class="ln b" d="M883.0 306.5 C883.0 305.4 883.4 294.4 883.5 292.3 C883.7 290.2 885.2 280.2 885.4 278.6 C885.6 276.9 886.5 270.1 886.7 270.1 C886.8 270.1 887.4 277.2 887.5 278.6 C887.7 280.0 888.2 287.2 888.3 288.6 C888.4 289.9 888.7 295.9 888.7 296.5"/>
<path class="ln b" d="M1141.6 478.2 C1141.9 477.9 1145.4 474.6 1146.2 474.2 C1147.0 473.8 1151.5 472.9 1152.5 472.9 C1153.4 473.0 1157.9 474.4 1158.7 474.8 C1159.5 475.2 1162.4 478.0 1162.7 478.2"/>
<path class="ln b" d="M1192.2 475.3 C1192.5 475.2 1196.2 474.5 1197.4 474.8 C1198.5 475.0 1206.0 478.2 1207.3 478.5 C1208.7 478.9 1215.1 479.5 1215.7 479.6"/>
<path class="ln b" d="M1251.0 479.6 C1251.8 479.6 1259.2 478.6 1261.0 478.5 C1262.8 478.5 1274.2 478.5 1275.3 478.5"/>
<path class="ln b" d="M1311.1 480.4 C1312.1 480.4 1322.0 480.6 1323.4 480.4 C1324.7 480.2 1328.7 478.1 1329.6 477.9 C1330.5 477.7 1334.6 477.9 1335.0 477.9"/>
<path class="ln b" d="M1368.5 480.3 C1369.0 480.0 1373.7 477.1 1374.5 476.7 C1375.4 476.2 1379.3 474.5 1379.7 474.3"/>
<path class="ln b" d="M1380.3 475.4 C1380.8 475.5 1386.4 476.1 1387.5 476.0 C1388.6 476.0 1394.7 474.9 1395.3 474.8"/>
<path class="ln b" d="M1423.5 471.2 C1423.7 470.3 1425.7 461.4 1426.2 459.8 C1426.6 458.3 1428.8 451.2 1429.3 450.5 C1429.7 449.7 1431.7 449.8 1431.9 449.7"/>
<path class="ln b" d="M1448.0 459.8 C1448.2 459.1 1450.5 452.5 1451.1 451.1 C1451.7 449.7 1455.0 441.6 1455.5 441.1 C1455.9 440.6 1457.2 444.5 1457.3 444.8"/>
<path class="ln b" d="M1466.2 474.3 C1466.8 474.7 1473.7 478.9 1474.8 479.2 C1475.9 479.4 1480.0 477.5 1481.0 477.3 C1482.1 477.1 1488.3 476.8 1488.9 476.8"/>
<path class="ln b" d="M1521.7 477.2 C1522.9 477.3 1536.6 478.0 1538.4 477.9 C1540.2 477.8 1545.3 476.5 1545.8 476.4"/>
<path class="ln b" d="M1578.6 468.2 C1579.4 468.6 1587.9 472.4 1589.6 472.9 C1591.3 473.5 1600.8 475.3 1601.7 475.5"/>
<path class="ln b" d="M1637.0 475.8 C1637.7 475.7 1645.0 474.4 1646.2 474.2 C1647.5 474.0 1652.6 473.0 1653.7 472.9 C1654.8 472.9 1660.5 473.4 1661.0 473.4"/>
<path class="ln b" d="M1696.2 476.2 C1697.0 476.3 1705.5 477.2 1707.3 477.3 C1709.2 477.4 1719.4 477.8 1720.4 477.9"/>
<path class="ln b" d="M1755.2 476.3 C1756.1 476.1 1765.8 473.9 1767.2 473.5 C1768.7 473.2 1773.8 471.9 1774.7 471.7 C1775.6 471.4 1778.4 470.4 1778.7 470.3"/>
<path class="ln b" d="M1812.0 478.8 C1812.7 478.9 1820.8 480.3 1822.1 480.4 C1823.4 480.6 1828.6 480.8 1829.6 480.8 C1830.6 480.7 1835.5 479.6 1836.0 479.5"/>
<path class="ln b" d="M1859.3 454.3 C1859.6 453.3 1862.7 442.8 1863.3 441.1 C1863.8 439.4 1866.4 431.8 1866.6 431.1"/>
<path class="ln b" d="M1880.5 456.9 C1880.8 457.1 1884.4 459.7 1885.1 459.7 C1885.8 459.7 1889.3 457.2 1890.1 456.6 C1890.9 456.1 1894.8 452.4 1895.6 452.3 C1896.5 452.2 1900.5 454.9 1900.9 455.1"/>
</g>
<text class="tk" transform="translate(131.9 538.8) scale(0.985 1)" text-anchor="middle">0</text>
<text class="tk" transform="translate(379.7 538.8) scale(0.985 1)" text-anchor="middle">50</text>
<text class="tk" transform="translate(627.4 538.8) scale(0.985 1)" text-anchor="middle">100</text>
<text class="tk" transform="translate(875.2 538.8) scale(0.985 1)" text-anchor="middle">150</text>
<text class="tk" transform="translate(1122.9 538.8) scale(0.985 1)" text-anchor="middle">200</text>
<text class="tk" transform="translate(1370.7 538.8) scale(0.985 1)" text-anchor="middle">250</text>
<text class="tk" transform="translate(1618.4 538.8) scale(0.985 1)" text-anchor="middle">300</text>
<text class="tk" transform="translate(1866.2 538.8) scale(0.985 1)" text-anchor="middle">350</text>
<text class="tk" transform="translate(117.0 502.8) scale(0.985 1)" text-anchor="end">0.0</text>
<text class="tk" transform="translate(117.0 388.9) scale(0.985 1)" text-anchor="end">0.5</text>
<text class="tk" transform="translate(117.0 275.0) scale(0.985 1)" text-anchor="end">1.0</text>
<text class="tk" transform="translate(117.0 161.1) scale(0.985 1)" text-anchor="end">1.5</text>
<text class="tk" transform="translate(117.0 47.2) scale(0.985 1)" text-anchor="end">2.0</text>
<text class="dy" transform="translate(1923.5 541.8) scale(0.971 1)">Day</text>
<text class="ax" transform="translate(41.0 522.0) rotate(-90) scale(0.957 1)">Cumulative Error(m<tspan font-size="49px" dy="-3.5">³</tspan><tspan dy="3.5" dx="2.1">/s)</tspan></text>
<text class="pl" style="font-size:91px" x="153.5" y="97.6">a</text>
<line x1="1501.5" y1="80.2" x2="1625.0" y2="80.2" stroke="#66c2a5" stroke-width="6.0" stroke-linecap="round"/>
<text class="lg" transform="translate(1638.6 99.1) scale(0.968 1)">Dongjiang</text>
<line x1="1501.5" y1="148.7" x2="1625.0" y2="148.7" stroke="#fc8d62" stroke-width="6.0" stroke-linecap="round" stroke-dasharray="9.4 17.65"/>
<text class="lg" transform="translate(1638.6 167.6) scale(0.968 1)">Quinebaug</text>
<line x1="1501.5" y1="217.1" x2="1625.0" y2="217.1" stroke="#8da0cb" stroke-width="6.0" stroke-linecap="round" stroke-dasharray="24.2 36.4"/>
<text class="lg" transform="translate(1638.6 236.0) scale(0.968 1)">Housatonic</text>
</g>
<g id="panel-b">
<path class="fr" d="M380.1 1035.4 V1020.9 M627.8 1035.4 V1020.9 M875.6 1035.4 V1020.9 M1123.3 1035.4 V1020.9 M1371.1 1035.4 V1020.9 M1618.8 1035.4 V1020.9 M1866.6 1035.4 V1020.9 M132.3 944.4 H146.8 M132.3 853.4 H146.8 M132.3 762.4 H146.8 M132.3 671.4 H146.8"/>
<rect class="fr" x="132.3" y="580.4" width="1798.3" height="455.0"/>
<clipPath id="clip-b"><rect x="134.6" y="580.4" width="1793.7" height="455.6"/></clipPath>
<g clip-path="url(#clip-b)">
<path class="ln g" d="M132.4 1016.8 C132.8 1016.4 136.8 1010.7 137.5 1011.2 C138.2 1011.7 141.1 1021.8 141.9 1023.0 C142.6 1024.3 146.7 1027.6 147.5 1028.0 C148.3 1028.5 151.7 1029.5 152.5 1029.3 C153.2 1029.0 156.7 1025.4 157.4 1024.9 C158.2 1024.4 161.7 1022.5 162.4 1022.4 C163.2 1022.3 166.7 1023.8 167.4 1023.7 C168.1 1023.6 171.1 1022.3 171.8 1021.2 C172.5 1020.0 176.0 1008.0 176.8 1008.1 C177.5 1008.2 181.0 1022.2 181.8 1022.4 C182.5 1022.6 186.0 1011.3 186.8 1011.2 C187.5 1011.1 191.0 1019.5 191.8 1021.2 C192.5 1022.8 196.0 1032.6 196.7 1033.0 C197.5 1033.5 201.0 1028.1 201.7 1027.4 C202.5 1026.7 206.0 1024.2 206.7 1023.7 C207.5 1023.1 211.0 1020.6 211.7 1020.5 C212.5 1020.4 216.0 1022.3 216.7 1022.4 C217.5 1022.6 220.9 1022.6 221.7 1022.4 C222.4 1022.2 225.9 1020.4 226.7 1019.9 C227.4 1019.4 230.9 1017.2 231.7 1015.6 C232.4 1013.9 235.7 998.0 236.4 997.5 C237.2 996.9 240.9 1005.6 241.7 1008.1 C242.4 1010.5 245.9 1028.6 246.6 1029.9 C247.4 1031.2 250.9 1026.3 251.6 1025.5 C252.3 1024.7 255.3 1019.9 256.0 1019.3 C256.7 1018.7 260.2 1017.7 261.0 1018.0 C261.7 1018.4 265.2 1024.0 266.0 1024.3 C266.7 1024.6 270.2 1021.9 271.0 1021.8 C271.7 1021.7 275.2 1023.4 276.0 1022.4 C276.7 1021.4 280.2 1009.0 280.9 1008.1 C281.7 1007.2 285.2 1009.9 285.9 1010.6 C286.7 1011.2 290.2 1017.5 290.9 1016.8 C291.7 1016.1 295.2 999.5 295.9 1000.6 C296.7 1001.6 300.2 1028.4 300.9 1030.5 C301.6 1032.5 305.1 1029.0 305.9 1028.7 C306.6 1028.3 310.1 1025.2 310.9 1025.5 C311.6 1025.9 315.1 1032.5 315.9 1033.0 C316.6 1033.6 320.1 1033.2 320.9 1033.0 C321.6 1032.8 325.1 1030.6 325.9 1030.5 C326.6 1030.5 330.1 1032.4 330.8 1032.4 C331.6 1032.3 335.1 1030.3 335.8 1029.9 C336.6 1029.5 340.1 1027.4 340.8 1027.4 C341.6 1027.5 345.1 1030.2 345.8 1030.5 C346.6 1030.9 350.1 1031.6 350.8 1031.8 C351.5 1032.0 354.5 1033.1 355.2 1033.0 C355.9 1032.9 359.4 1030.6 360.2 1030.5 C360.9 1030.4 364.5 1032.1 365.2 1031.8 C365.9 1031.4 368.8 1026.7 369.5 1026.2 C370.3 1025.6 374.3 1025.5 375.1 1024.9 C375.9 1024.3 379.6 1018.6 380.0 1018.0"/>
<path class="ln g" d="M380.0 1018.0 C380.4 1018.9 384.2 1028.5 385.0 1029.3 C385.7 1030.1 389.2 1028.7 390.0 1028.7 C390.7 1028.6 394.2 1028.4 395.0 1028.0 C395.7 1027.7 399.2 1023.8 400.0 1023.7 C400.7 1023.5 404.2 1025.0 405.0 1025.5 C405.7 1026.0 409.2 1030.4 409.9 1030.5 C410.7 1030.6 414.2 1027.5 414.9 1026.8 C415.7 1026.1 419.2 1021.8 419.9 1021.2 C420.7 1020.6 424.2 1018.1 424.9 1018.7 C425.7 1019.3 429.2 1028.3 429.9 1029.3 C430.6 1030.2 434.1 1031.0 434.9 1031.1 C435.6 1031.3 439.1 1031.6 439.9 1031.8 C440.6 1031.9 444.1 1032.9 444.9 1033.0 C445.6 1033.1 449.1 1033.3 449.9 1033.3 C450.6 1033.3 454.1 1033.2 454.9 1033.0 C455.6 1032.9 459.1 1031.4 459.8 1031.1 C460.6 1030.9 464.1 1029.6 464.8 1029.3 C465.5 1029.0 468.5 1027.3 469.2 1027.4 C469.9 1027.5 473.4 1030.4 474.2 1030.5 C474.9 1030.6 478.4 1028.7 479.2 1028.7 C479.9 1028.6 483.4 1030.0 484.2 1029.9 C484.9 1029.8 488.4 1026.9 489.2 1026.8 C489.9 1026.7 493.4 1028.5 494.1 1028.7 C494.9 1028.8 498.4 1028.7 499.1 1028.7 C499.9 1028.6 503.4 1027.6 504.1 1027.4 C504.9 1027.2 508.4 1026.6 509.1 1026.5 C509.9 1026.4 513.4 1026.2 514.1 1026.2 C514.9 1026.1 518.4 1026.0 519.1 1025.5 C519.8 1025.0 522.8 1020.4 523.5 1019.3 C524.2 1018.2 527.7 1011.7 528.5 1010.6 C529.2 1009.4 532.7 1003.4 533.4 1004.3 C534.2 1005.3 537.7 1022.0 538.4 1023.0 C539.2 1024.1 542.7 1017.8 543.4 1018.0 C544.2 1018.3 547.7 1025.8 548.4 1026.8 C549.2 1027.7 552.7 1030.4 553.4 1030.5 C554.2 1030.7 557.6 1028.7 558.4 1028.7 C559.1 1028.6 562.6 1029.5 563.4 1029.9 C564.1 1030.3 567.6 1033.5 568.4 1033.6 C569.1 1033.8 572.6 1032.9 573.4 1032.4 C574.1 1031.9 577.6 1028.2 578.4 1026.8 C579.1 1025.3 582.6 1014.9 583.3 1013.1 C584.1 1011.2 587.6 1002.7 588.3 1001.8 C589.1 1001.0 592.6 1000.9 593.3 1001.8 C594.1 1002.8 597.6 1012.8 598.3 1014.3 C599.1 1015.8 602.6 1022.3 603.3 1022.4 C604.1 1022.6 607.5 1016.2 608.3 1016.2 C609.0 1016.1 612.5 1021.2 613.3 1021.8 C614.0 1022.4 617.5 1023.4 618.3 1023.7 C619.0 1023.9 622.4 1025.2 623.3 1025.5 C624.1 1025.9 629.5 1028.4 630.0 1028.7"/>
<path class="ln g" d="M630.0 1028.7 C630.2 1028.4 632.5 1025.6 633.1 1024.9 C633.7 1024.3 637.4 1019.9 638.1 1019.9 C638.8 1020.0 641.8 1024.5 642.5 1025.5 C643.2 1026.6 646.7 1033.2 647.5 1033.6 C648.2 1034.1 651.8 1033.1 652.5 1031.8 C653.1 1030.5 655.4 1017.7 656.2 1016.2 C656.9 1014.6 661.6 1011.7 662.4 1011.2 C663.3 1010.6 666.7 1008.6 667.4 1008.7 C668.2 1008.7 671.8 1013.1 672.4 1011.8 C673.0 1010.5 675.2 993.7 675.5 991.8 C675.9 990.0 676.9 987.1 677.4 987.5 C677.9 987.9 681.6 994.7 682.4 996.8 C683.1 998.9 686.6 1014.3 687.4 1015.6 C688.1 1016.8 691.8 1015.0 692.4 1013.1 C692.9 1011.1 694.5 991.6 694.9 989.3 C695.2 987.1 696.8 982.0 697.4 982.5 C697.9 983.0 701.6 992.1 702.4 995.6 C703.1 999.1 706.6 1027.5 707.3 1028.7 C708.0 1029.8 711.1 1012.9 711.7 1010.6 C712.4 1008.2 715.3 998.3 716.1 997.5 C716.9 996.6 721.6 997.2 722.3 999.3 C723.1 1001.5 725.4 1024.1 726.1 1026.2 C726.7 1028.1 730.3 1026.9 731.0 1026.8 C731.8 1026.6 735.3 1024.5 736.0 1024.3 C736.8 1024.1 740.2 1024.4 741.0 1024.3 C741.8 1024.1 745.8 1022.2 746.6 1022.4 C747.4 1022.6 750.9 1027.0 751.6 1027.4 C752.4 1027.8 755.9 1028.2 756.6 1027.4 C757.3 1026.6 760.2 1017.0 761.0 1016.2 C761.7 1015.4 765.9 1018.9 766.6 1016.8 C767.3 1014.7 769.6 990.8 770.3 988.1 C771.0 985.4 775.1 983.8 776.0 981.2 C776.8 978.7 780.8 954.5 781.6 954.4 C782.3 954.4 785.2 976.8 785.9 980.6 C786.6 984.5 790.2 1002.1 790.9 1005.6 C791.7 1009.0 795.2 1027.2 795.9 1026.8 C796.7 1026.3 800.2 1003.3 800.9 999.3 C801.7 995.4 805.1 975.4 805.9 974.4 C806.7 973.3 811.3 982.9 812.1 985.6 C812.9 988.3 815.8 1007.5 816.5 1010.6 C817.2 1013.6 820.2 1025.7 820.9 1026.8 C821.6 1027.9 825.1 1025.1 825.9 1025.5 C826.6 1026.0 830.1 1031.9 830.8 1032.4 C831.6 1032.9 835.1 1032.9 835.8 1031.8 C836.6 1030.6 840.0 1018.4 840.8 1017.4 C841.7 1016.5 846.3 1019.5 847.1 1019.3 C847.9 1019.1 850.8 1015.6 851.4 1014.3 C852.1 1013.0 855.1 1002.2 855.8 1001.8 C856.5 1001.4 860.0 1007.4 860.8 1008.7 C861.5 1010.0 865.0 1017.8 865.8 1018.7 C866.5 1019.5 870.0 1019.3 870.8 1019.9 C871.5 1020.5 875.0 1025.9 875.8 1026.8 C876.5 1027.7 880.4 1031.4 880.7 1031.8"/>
<path class="ln g" d="M880.0 1031.7 C880.4 1031.7 884.4 1033.1 885.0 1031.7 C885.6 1030.3 887.1 1016.7 887.5 1013.0 C887.9 1009.3 890.2 986.1 890.6 981.9 C891.0 977.7 892.8 960.6 893.1 956.9 C893.4 953.2 894.1 935.4 894.3 932.0 C894.5 928.6 895.2 915.0 895.3 912.0 C895.4 909.0 895.9 896.6 896.0 892.3 C896.1 888.0 897.1 859.5 897.3 854.9 C897.5 850.3 898.3 834.0 898.5 831.0 C898.7 828.0 900.1 814.7 900.4 814.7 C900.7 814.7 902.5 828.0 902.9 831.0 C903.3 834.0 905.0 850.8 905.4 854.9 C905.8 859.0 907.6 881.7 907.9 886.0 C908.2 890.3 909.6 909.5 909.8 912.0 C910.0 914.5 910.9 917.5 911.2 919.5 C911.5 921.5 913.6 936.3 914.3 938.2 C915.0 940.1 919.3 942.8 919.9 944.4 C920.5 946.0 922.0 957.1 922.4 959.4 C922.8 961.7 924.3 973.4 924.9 975.6 C925.5 977.8 929.1 986.0 929.9 988.1 C930.6 990.2 934.5 1001.9 934.9 1003.0"/>
<path class="ln g" d="M934.9 1003.1 C935.3 1001.1 939.1 975.9 939.9 976.9 C940.6 977.8 944.1 1013.5 944.9 1015.6 C945.6 1017.6 949.1 1005.5 949.9 1004.3 C950.6 1003.1 954.1 1000.3 954.9 999.3 C955.6 998.3 959.1 991.4 959.8 991.2 C960.6 991.0 964.0 996.1 964.8 996.8 C965.6 997.5 969.7 998.3 970.4 1000.6 C971.1 1002.8 973.6 1024.4 974.2 1026.8 C974.8 1029.1 977.9 1032.3 978.6 1031.8 C979.3 1031.2 982.8 1020.2 983.5 1019.3 C984.3 1018.4 987.8 1019.5 988.5 1019.9 C989.3 1020.3 992.8 1024.7 993.5 1024.3 C994.3 1023.9 997.8 1017.9 998.5 1014.3 C999.3 1010.7 1002.8 982.5 1003.5 976.9 C1004.3 971.3 1007.9 942.4 1008.5 939.4 C1008.8 937.9 1011.1 936.9 1011.6 936.9 C1012.1 937.0 1014.5 938.8 1014.7 940.7 C1015.2 944.1 1016.9 975.4 1017.2 981.9 C1017.6 988.3 1018.6 1024.0 1019.1 1026.8 C1019.6 1029.6 1022.8 1019.7 1023.5 1019.3 C1024.2 1018.9 1027.7 1021.4 1028.5 1021.8 C1029.2 1022.2 1032.6 1024.9 1033.4 1024.3 C1034.2 1023.6 1038.3 1013.2 1039.1 1013.1 C1039.8 1013.0 1042.7 1022.1 1043.4 1023.0 C1044.1 1023.9 1047.7 1024.9 1048.4 1024.9 C1049.2 1025.0 1052.7 1023.7 1053.4 1023.7 C1054.2 1023.7 1057.6 1024.6 1058.4 1024.9 C1059.1 1025.2 1062.6 1026.9 1063.4 1027.4 C1064.1 1027.9 1067.6 1031.6 1068.4 1031.8 C1069.1 1031.9 1072.6 1029.3 1073.4 1029.3 C1074.1 1029.3 1077.6 1031.7 1078.4 1031.8 C1079.1 1031.9 1082.5 1030.6 1083.3 1030.5 C1084.2 1030.4 1088.7 1030.6 1089.6 1030.5 C1090.4 1030.4 1093.8 1029.4 1094.6 1029.3 C1095.3 1029.1 1098.8 1028.8 1099.6 1028.7 C1100.3 1028.5 1103.9 1027.0 1104.6 1026.8 C1105.2 1026.6 1107.6 1026.1 1108.3 1026.2 C1108.9 1026.2 1112.5 1027.9 1113.3 1027.4 C1114.0 1026.9 1117.5 1019.0 1118.3 1019.3 C1119.0 1019.6 1122.5 1031.3 1123.3 1031.8 C1124.0 1032.3 1127.7 1026.6 1128.3 1026.2 C1128.8 1025.7 1129.9 1025.6 1130.0 1025.5"/>
<path class="ln g" d="M1130.0 1026.2 C1130.2 1026.0 1132.5 1025.1 1133.1 1024.3 C1133.7 1023.5 1137.4 1016.5 1138.1 1015.6 C1138.8 1014.6 1141.7 1011.6 1142.5 1011.2 C1143.2 1010.8 1147.3 1010.0 1148.1 1009.9 C1148.9 1009.8 1152.3 1009.8 1153.1 1009.9 C1153.8 1010.1 1157.4 1012.5 1158.1 1011.8 C1158.8 1011.1 1161.7 1001.6 1162.4 1000.6 C1163.1 999.6 1166.7 997.3 1167.4 998.7 C1168.2 1000.2 1171.7 1019.4 1172.4 1019.9 C1173.2 1020.5 1176.7 1007.6 1177.4 1006.2 C1178.2 1004.8 1181.6 1002.9 1182.4 1001.8 C1183.1 1000.8 1186.6 992.9 1187.4 991.8 C1188.2 990.8 1192.3 986.2 1193.0 988.1 C1193.7 990.0 1196.7 1015.0 1197.4 1016.8 C1198.1 1018.6 1201.6 1014.2 1202.4 1012.4 C1203.1 1010.7 1206.6 991.9 1207.3 993.1 C1208.1 994.3 1211.6 1026.4 1212.3 1028.0 C1213.1 1029.7 1216.6 1016.1 1217.3 1014.9 C1218.1 1013.7 1221.6 1012.9 1222.3 1011.8 C1223.1 1010.7 1226.6 1002.9 1227.3 1000.6 C1228.0 998.3 1231.0 980.1 1231.7 981.2 C1232.4 982.4 1235.9 1013.6 1236.7 1015.6 C1237.4 1017.5 1240.9 1007.3 1241.7 1006.8 C1242.4 1006.3 1246.3 1008.5 1246.6 1008.7"/>
<path class="ln g" d="M1246.7 1008.7 C1247.1 1008.0 1251.2 1001.8 1251.6 999.3 C1252.0 996.8 1252.2 979.0 1252.4 974.8 C1252.6 970.6 1253.4 948.3 1253.6 943.6 C1253.8 938.9 1254.7 917.1 1254.9 912.4 C1255.1 907.7 1255.9 885.9 1256.1 881.2 C1256.3 876.5 1257.2 853.7 1257.3 850.0 C1257.4 846.3 1257.9 836.1 1258.0 831.9 C1258.1 827.7 1259.0 800.0 1259.2 794.4 C1259.4 788.8 1260.6 762.6 1260.8 757.0 C1261.0 751.4 1262.0 725.4 1262.3 719.8 C1262.6 714.2 1263.9 687.8 1264.2 682.4 C1264.5 677.0 1265.8 651.1 1266.0 648.0 C1266.2 645.2 1266.5 641.0 1266.6 641.0 C1266.7 641.0 1267.2 645.2 1267.3 648.0 C1267.4 651.1 1267.9 677.0 1268.0 682.4 C1268.1 687.8 1268.7 714.2 1268.8 719.8 C1268.9 725.4 1269.6 751.4 1269.8 757.0 C1270.0 762.6 1270.7 788.8 1270.8 794.4 C1270.9 800.0 1271.6 827.7 1271.7 831.9 C1271.8 836.1 1272.1 846.8 1272.3 850.0 C1272.5 853.2 1274.0 871.1 1274.2 875.0 C1274.4 878.9 1275.2 898.8 1275.4 902.4 C1275.6 906.0 1276.1 922.8 1276.3 923.4 C1276.5 924.0 1278.2 911.3 1278.6 909.9 C1279.0 908.5 1281.3 904.1 1281.7 904.9 C1282.1 905.6 1283.2 917.0 1283.5 919.9 C1283.8 922.8 1285.6 940.1 1286.0 943.6 C1286.4 947.1 1288.8 962.7 1289.2 966.0 C1289.6 969.3 1291.2 984.1 1291.7 987.0 C1292.2 989.9 1295.2 1001.0 1295.9 1004.3 C1296.6 1007.6 1300.5 1028.5 1300.9 1030.5"/>
<path class="ln g" d="M1300.9 1030.5 C1301.2 1030.6 1304.0 1031.6 1304.7 1031.8 C1305.3 1032.0 1308.9 1033.3 1309.6 1033.0 C1310.4 1032.7 1313.9 1027.6 1314.6 1027.4 C1315.4 1027.2 1318.8 1030.0 1319.6 1029.9 C1320.4 1029.8 1324.5 1026.3 1325.2 1026.2 C1326.0 1026.0 1328.9 1028.1 1329.6 1028.0 C1330.3 1027.9 1334.4 1024.8 1335.2 1024.9 C1336.1 1025.1 1340.0 1030.1 1340.8 1029.9 C1341.6 1029.7 1345.1 1022.3 1345.8 1021.8 C1346.6 1021.3 1350.1 1023.1 1350.8 1023.0 C1351.6 1023.0 1355.0 1020.9 1355.8 1021.2 C1356.5 1021.4 1360.0 1026.4 1360.8 1026.2 C1361.5 1025.9 1365.0 1018.0 1365.8 1018.0 C1366.5 1018.1 1370.0 1027.8 1370.8 1027.4 C1371.5 1027.0 1375.1 1015.0 1375.8 1013.1 C1376.5 1011.1 1379.7 1002.7 1380.0 1001.8"/>
<path class="ln g" d="M1380.0 1001.8 C1380.1 1001.9 1381.0 1002.0 1381.2 1002.5 C1381.7 1003.3 1384.9 1012.2 1385.6 1013.1 C1386.4 1013.9 1390.5 1013.0 1391.2 1014.3 C1392.0 1015.6 1394.9 1028.9 1395.6 1029.9 C1396.3 1030.9 1399.9 1028.1 1400.6 1028.0 C1401.3 1027.9 1404.2 1028.7 1405.0 1028.7 C1405.7 1028.6 1409.1 1026.7 1409.9 1026.8 C1410.7 1026.9 1414.8 1029.8 1415.6 1029.9 C1416.3 1030.0 1419.2 1028.2 1419.9 1028.0 C1420.6 1027.8 1424.2 1027.6 1424.9 1027.4 C1425.7 1027.2 1429.2 1025.4 1429.9 1025.5 C1430.6 1025.6 1434.1 1028.2 1434.9 1028.7 C1435.6 1029.1 1439.1 1032.1 1439.9 1031.8 C1440.6 1031.4 1444.1 1024.4 1444.9 1023.7 C1445.6 1023.0 1449.1 1023.4 1449.9 1022.4 C1450.6 1021.4 1454.1 1010.7 1454.9 1010.6 C1455.6 1010.4 1459.1 1020.1 1459.8 1020.5 C1460.6 1021.0 1464.1 1016.3 1464.8 1016.8 C1465.6 1017.3 1469.1 1026.4 1469.8 1026.8 C1470.6 1027.2 1474.1 1022.4 1474.8 1022.4 C1475.6 1022.4 1479.1 1026.1 1479.8 1026.8 C1480.5 1027.4 1484.0 1031.3 1484.8 1031.1 C1485.5 1031.0 1489.0 1025.1 1489.8 1024.3 C1490.5 1023.4 1494.0 1020.2 1494.8 1019.9 C1495.5 1019.7 1499.0 1021.2 1499.8 1021.2 C1500.5 1021.1 1504.0 1019.9 1504.8 1019.3 C1505.5 1018.7 1508.4 1012.9 1509.1 1013.7 C1509.8 1014.5 1513.4 1030.2 1514.1 1029.9 C1514.9 1029.6 1518.4 1012.5 1519.1 1009.3 C1519.8 1006.1 1522.7 989.6 1523.5 986.9 C1524.2 984.1 1528.3 971.4 1529.1 973.1 C1529.8 974.9 1532.7 1006.8 1533.4 1010.6 C1534.2 1014.3 1538.3 1022.6 1539.1 1023.0 C1539.9 1023.5 1543.3 1017.9 1544.0 1016.8 C1544.8 1015.7 1548.3 1008.3 1549.0 1008.1 C1549.8 1007.9 1553.3 1012.9 1554.0 1014.3 C1554.7 1015.7 1557.6 1025.8 1558.4 1026.8 C1559.1 1027.8 1563.6 1027.4 1564.0 1027.4"/>
<path class="ln o" d="M528.9 877.4 L529.3 885.2"/>
<path class="ln o" d="M527.5 887.7 L527.0 895.9"/>
<path class="ln o" d="M531.5 904.2 L532.0 912.9"/>
<path class="ln o" d="M524.5 914.2 L524.1 922.6"/>
<path class="ln o" d="M568.8 886.0 L570.1 892.2"/>
<path class="ln o" d="M565.3 905.1 L564.9 914.8"/>
<path class="ln o" d="M573.9 909.8 L574.3 919.2"/>
<path class="ln o" d="M137.5 1028.7 C137.8 1028.6 141.2 1027.6 141.9 1027.4 C142.5 1027.2 145.9 1026.6 146.2 1026.5"/>
<path class="ln o" d="M163.6 1028.0 C163.9 1028.1 166.8 1029.1 167.4 1029.3 C168.1 1029.4 172.0 1029.7 172.4 1029.7"/>
<path class="ln o" d="M192.7 1026.2 C193.1 1026.1 197.3 1025.0 198.0 1024.9 C198.6 1024.9 201.2 1025.5 201.4 1025.6"/>
<path class="ln o" d="M216.7 1024.8 C217.0 1024.7 220.4 1023.2 221.1 1023.0 C221.7 1022.9 225.0 1023.0 225.3 1023.0"/>
<path class="ln o" d="M242.8 1026.2 L251.8 1026.2"/>
<path class="ln o" d="M266.3 1027.5 C266.5 1027.2 268.7 1024.2 269.1 1023.7 C269.5 1023.1 271.7 1020.7 271.9 1020.4"/>
<path class="ln o" d="M281.4 1011.4 C281.5 1011.7 283.1 1015.0 283.4 1015.6 C283.8 1016.1 286.3 1018.4 286.5 1018.6"/>
<path class="ln o" d="M302.1 1026.9 C302.4 1026.8 305.2 1025.6 305.9 1025.5 C306.6 1025.5 310.5 1026.0 310.8 1026.0"/>
<path class="ln o" d="M321.5 1019.5 C321.8 1019.3 325.3 1016.9 325.9 1016.8 C326.5 1016.7 329.3 1017.8 329.5 1017.9"/>
<path class="ln o" d="M344.5 1018.0 C344.8 1018.3 347.8 1021.4 348.3 1021.8 C348.8 1022.2 351.2 1023.5 351.5 1023.7"/>
<path class="ln o" d="M361.0 1026.2 C361.3 1026.0 363.9 1023.8 364.5 1023.7 C365.1 1023.5 368.8 1024.1 369.1 1024.2"/>
<path class="ln o" d="M384.8 1024.2 C385.2 1024.4 389.4 1026.1 390.0 1026.2 C390.6 1026.2 393.0 1024.9 393.2 1024.9"/>
<path class="ln o" d="M403.9 1009.0 L409.7 1002.1"/>
<path class="ln o" d="M413.1 1018.0 L414.9 1026.8"/>
<path class="ln o" d="M424.6 1027.8 C424.9 1027.7 428.1 1025.6 428.7 1025.5 C429.3 1025.5 432.4 1027.1 432.7 1027.3"/>
<path class="ln o" d="M447.7 1018.0 L454.6 1017.4"/>
<path class="ln o" d="M469.7 1017.9 L474.3 1010.1"/>
<path class="ln o" d="M479.4 992.4 L482.7 984.0"/>
<path class="ln o" d="M485.0 991.3 L487.7 999.9"/>
<path class="ln o" d="M492.5 1017.9 L497.0 1014.5"/>
<path class="ln o" d="M508.9 1010.6 L513.1 1018.6"/>
<path class="ln o" d="M516.8 1003.7 L518.9 995.0"/>
<path class="ln o" d="M519.2 976.6 L520.9 967.8"/>
<path class="ln o" d="M521.6 949.2 L522.8 940.3"/>
<path class="ln o" d="M533.5 930.9 L534.1 939.9"/>
<path class="ln o" d="M535.4 958.1 L537.1 966.9"/>
<path class="ln o" d="M537.6 984.6 L541.1 992.9"/>
<path class="ln o" d="M546.1 1007.1 L549.5 1013.4"/>
<path class="ln o" d="M556.7 995.0 L558.9 986.2"/>
<path class="ln o" d="M559.7 967.9 L560.9 959.0"/>
<path class="ln o" d="M561.6 940.8 L562.7 931.9"/>
<path class="ln o" d="M574.6 937.2 L575.8 946.1"/>
<path class="ln o" d="M575.9 964.3 L577.0 973.2"/>
<path class="ln o" d="M577.9 991.4 C578.1 992.4 580.1 1005.2 580.5 1005.6 C580.8 1006.0 582.7 997.6 582.9 997.0"/>
<path class="ln o" d="M589.1 1010.3 L591.9 1007.0"/>
<path class="ln o" d="M601.1 1005.1 L605.5 997.3"/>
<path class="ln o" d="M610.8 980.6 L613.3 971.9"/>
<path class="ln o" d="M619.7 981.2 L621.9 990.0"/>
<path class="ln o" d="M629.7 1002.9 L637.8 1007.0"/>
<path class="ln o" d="M645.3 1021.0 C645.5 1021.3 647.7 1023.7 648.1 1024.3 C648.4 1024.9 649.9 1028.3 650.0 1028.6"/>
<path class="ln o" d="M662.3 1029.0 C662.6 1029.3 666.2 1032.5 666.8 1032.7 C667.4 1032.9 669.7 1031.4 670.0 1031.3"/>
<path class="ln o" d="M684.1 1028.0 C684.3 1028.5 686.9 1033.2 687.4 1033.7 C687.9 1034.2 690.1 1034.4 690.4 1034.5"/>
<path class="ln o" d="M707.1 1025.9 L715.7 1023.3"/>
<path class="ln o" d="M729.6 1023.6 L737.5 1028.1"/>
<path class="ln o" d="M755.6 1028.7 L764.6 1028.7"/>
<path class="ln o" d="M780.4 1030.3 C780.8 1030.4 784.7 1031.8 785.3 1031.8 C786.0 1031.8 788.7 1030.5 789.0 1030.4"/>
<path class="ln o" d="M807.4 1027.6 L816.3 1029.1"/>
<path class="ln o" d="M828.4 1016.7 L832.7 1008.8"/>
<path class="ln o" d="M843.5 1005.2 L848.2 1012.8"/>
<path class="ln o" d="M857.8 1021.0 L860.7 1029.5"/>
<path class="ln o" d="M874.5 1025.1 L877.7 1016.7"/>
<path class="ln o" d="M880.4 998.6 L884.6 990.7"/>
<path class="ln o" d="M888.2 1001.6 L891.1 1010.2"/>
<path class="ln o" d="M898.4 1025.6 C898.7 1026.0 900.8 1030.6 901.2 1031.1 C901.6 1031.7 903.5 1032.9 903.6 1033.0"/>
<path class="ln o" d="M920.3 1031.6 C920.5 1031.2 922.7 1026.1 923.0 1025.5 C923.4 1024.9 924.3 1023.8 924.4 1023.7"/>
<path class="ln o" d="M932.8 1007.1 L937.6 1014.7"/>
<path class="ln o" d="M943.8 1027.1 L947.8 1019.0"/>
<path class="ln o" d="M950.0 1001.6 L951.6 992.7"/>
<path class="ln o" d="M951.2 974.4 L952.9 965.6"/>
<path class="ln o" d="M953.1 946.9 L955.3 938.2"/>
<path class="ln o" d="M955.6 920.2 L957.2 911.3"/>
<path class="ln o" d="M962.4 922.2 L963.5 931.1"/>
<path class="ln o" d="M964.2 948.4 L965.4 957.3"/>
<path class="ln o" d="M970.6 974.9 L971.6 983.8"/>
<path class="ln o" d="M973.0 1001.4 L974.2 1010.3"/>
<path class="ln o" d="M984.4 1016.1 L987.1 1007.5"/>
<path class="ln o" d="M989.7 995.6 L993.6 1003.7"/>
<path class="ln o" d="M996.8 1021.2 L999.0 1029.9"/>
<path class="ln o" d="M1011.3 1028.9 L1020.0 1031.5"/>
<path class="ln o" d="M1037.7 1028.2 L1046.0 1024.8"/>
<path class="ln o" d="M1058.6 1031.8 L1067.0 1028.6"/>
<path class="ln o" d="M1082.9 1026.8 C1083.2 1027.1 1086.6 1030.0 1087.1 1030.5 C1087.6 1031.0 1089.3 1033.3 1089.5 1033.5"/>
<path class="ln o" d="M1106.9 1029.9 L1115.9 1029.9"/>
<path class="ln o" d="M1131.2 1031.4 C1131.6 1031.3 1135.6 1030.0 1136.2 1029.9 C1136.9 1029.8 1139.7 1029.9 1140.0 1029.9"/>
<path class="ln o" d="M959.8 867.9 L960.7 876.8"/>
<path class="ln o" d="M958.4 883.2 L957.2 892.1"/>
<path class="ln o" d="M961.0 895.0 L962.0 903.9"/>
<path class="ln o" d="M1158.4 1028.8 C1158.8 1028.8 1163.0 1029.1 1163.7 1029.3 C1164.3 1029.4 1166.9 1030.6 1167.1 1030.8"/>
<path class="ln o" d="M1184.8 1031.0 C1185.2 1031.0 1189.2 1030.6 1189.9 1030.5 C1190.6 1030.5 1193.4 1030.1 1193.7 1030.0"/>
<path class="ln o" d="M1210.2 1030.4 C1210.5 1030.3 1214.2 1029.8 1214.8 1029.9 C1215.5 1030.0 1218.6 1031.2 1218.9 1031.3"/>
<path class="ln o" d="M1232.2 1021.6 C1232.5 1021.4 1235.5 1019.0 1236.0 1018.7 C1236.6 1018.4 1239.8 1017.6 1240.1 1017.5"/>
<path class="ln o" d="M1252.4 1027.6 C1252.6 1027.9 1254.4 1030.2 1254.8 1030.5 C1255.1 1030.8 1256.8 1031.6 1257.0 1031.6"/>
<path class="ln o" d="M1275.8 1023.4 C1276.1 1023.3 1279.1 1021.7 1279.7 1021.8 C1280.3 1021.9 1283.3 1024.4 1283.6 1024.6"/>
<path class="ln o" d="M1299.9 1033.5 L1308.8 1031.9"/>
<path class="ln o" d="M1324.8 1028.5 C1325.1 1028.4 1329.0 1027.3 1329.6 1027.4 C1330.2 1027.5 1332.5 1029.8 1332.7 1030.0"/>
<path class="ln o" d="M1350.4 1032.7 L1359.4 1032.7"/>
<path class="ln o" d="M1380.3 1031.2 L1387.2 1031.7"/>
<path class="ln o" d="M1404.2 1031.9 L1413.2 1032.6"/>
<path class="ln o" d="M1430.6 1028.1 C1430.9 1027.9 1434.2 1026.3 1434.9 1026.2 C1435.5 1026.0 1438.8 1026.6 1439.1 1026.6"/>
<path class="ln o" d="M1455.7 1024.9 C1456.0 1024.9 1459.3 1024.6 1459.8 1024.9 C1460.4 1025.2 1462.5 1028.5 1462.7 1028.8"/>
<path class="ln o" d="M1479.6 1027.9 C1479.9 1027.7 1483.0 1025.0 1483.5 1024.9 C1484.1 1024.8 1487.0 1026.2 1487.3 1026.3"/>
<path class="ln o" d="M1504.4 1030.7 L1513.2 1032.4"/>
<path class="ln o" d="M1531.2 1031.0 L1540.1 1030.1"/>
<path class="ln o" d="M1558.2 1032.3 C1558.3 1032.3 1559.1 1033.0 1559.6 1032.7 C1560.2 1032.4 1565.4 1028.5 1565.8 1028.1"/>
<path class="ln o" d="M1582.7 1030.3 C1583.1 1030.4 1586.4 1031.7 1587.1 1031.8 C1587.7 1031.8 1591.1 1030.9 1591.4 1030.8"/>
<path class="ln o" d="M1609.2 1030.2 C1609.5 1030.1 1612.6 1029.3 1613.3 1029.3 C1613.9 1029.3 1617.6 1030.1 1618.0 1030.2"/>
<path class="ln o" d="M1635.9 1030.5 C1636.2 1030.3 1639.3 1028.8 1640.0 1028.7 C1640.6 1028.5 1644.2 1028.2 1644.5 1028.2"/>
<path class="ln o" d="M1662.7 1028.2 C1663.1 1028.1 1666.8 1026.9 1667.4 1026.8 C1668.1 1026.7 1671.2 1027.2 1671.5 1027.2"/>
<path class="ln o" d="M1689.1 1029.8 L1698.1 1029.3"/>
<path class="ln o" d="M1714.8 1030.7 C1715.0 1030.7 1716.7 1029.8 1717.3 1029.9 C1718.0 1030.0 1723.1 1031.3 1723.5 1031.4"/>
<path class="ln o" d="M1741.6 1031.2 C1741.9 1031.1 1745.4 1030.0 1746.0 1029.9 C1746.7 1029.8 1750.0 1030.3 1750.4 1030.3"/>
<path class="ln o" d="M1767.8 1028.7 L1776.7 1029.8"/>
<path class="ln o" d="M1795.6 1030.1 C1796.1 1030.0 1801.5 1028.7 1802.2 1028.7 C1802.8 1028.6 1804.2 1029.2 1804.4 1029.3"/>
<path class="ln o" d="M1822.6 1030.4 C1822.9 1030.2 1825.9 1028.6 1826.5 1028.7 C1827.1 1028.7 1830.6 1030.3 1830.9 1030.4"/>
<path class="ln o" d="M1848.8 1028.1 L1857.8 1028.6"/>
<path class="ln o" d="M1870.7 1017.9 C1871.0 1018.1 1873.5 1021.1 1874.0 1021.6 C1874.4 1022.0 1876.8 1024.0 1877.1 1024.2"/>
<path class="ln o" d="M1892.7 1028.0 C1893.0 1027.8 1895.7 1025.6 1896.3 1025.3 C1896.9 1025.0 1900.4 1024.5 1900.7 1024.4"/>
<path class="ln o" d="M1918.0 1030.1 C1918.3 1030.4 1921.7 1033.8 1922.3 1034.2 C1922.9 1034.6 1925.6 1035.0 1925.8 1035.0"/>
<path class="ln b" d="M609.4 925.3 C609.4 924.2 610.1 912.3 610.2 910.6 C610.3 908.9 611.1 902.7 611.2 902.1"/>
<path class="ln b" d="M614.4 903.1 C614.5 903.2 615.6 904.3 615.8 905.3 C616.0 906.3 617.2 915.5 617.4 916.8 C617.6 918.1 618.1 922.1 618.1 922.5"/>
<path class="ln b" d="M621.3 917.4 C621.5 917.1 623.8 912.5 624.2 913.1 C624.6 913.7 625.7 923.9 626.1 926.1 C626.5 928.3 628.7 940.6 628.9 941.8"/>
<path class="ln b" d="M629.4 941.8 C629.5 940.6 630.9 927.9 631.1 926.1 C631.3 924.3 632.4 918.9 632.5 918.3"/>
<path class="ln b" d="M647.9 907.1 C648.0 907.8 649.4 915.1 649.7 916.8 C650.0 918.5 651.8 928.7 651.9 929.6"/>
<path class="ln b" d="M636.0 882.1 C636.0 881.7 636.8 877.1 637.0 876.2 C637.2 875.3 637.8 870.7 638.2 869.9 C638.6 869.1 641.9 865.6 642.3 865.6 C642.7 865.6 643.1 870.0 643.2 870.3"/>
<path class="ln b" d="M137.4 1017.3 C137.8 1017.2 141.3 1016.7 142.5 1016.8 C143.6 1016.9 151.0 1018.4 152.5 1018.7 C153.9 1019.0 160.6 1020.6 161.3 1020.8"/>
<path class="ln b" d="M185.5 1020.4 C185.8 1021.0 188.7 1027.9 189.3 1028.7 C189.8 1029.4 191.3 1030.3 192.4 1030.5 C193.5 1030.8 203.0 1031.9 203.9 1032.0"/>
<path class="ln b" d="M235.9 1030.2 C236.4 1030.3 241.1 1031.5 242.3 1031.8 C243.4 1032.0 249.7 1033.7 251.0 1033.7 C252.3 1033.7 259.2 1032.1 259.8 1031.9"/>
<path class="ln b" d="M284.7 1015.5 C284.7 1015.1 284.2 1010.4 284.7 1009.9 C285.2 1009.5 290.0 1009.6 290.9 1009.9 C291.9 1010.3 296.5 1013.6 297.2 1014.3 C297.8 1015.0 299.2 1018.4 299.4 1018.7"/>
<path class="ln b" d="M316.8 1025.0 C317.1 1025.4 319.6 1029.9 320.2 1029.9 C320.9 1029.9 325.1 1025.4 325.9 1024.9 C326.7 1024.4 330.3 1024.1 330.8 1023.7 C331.4 1023.2 333.5 1019.2 333.8 1018.8"/>
<path class="ln b" d="M351.7 1025.9 C351.9 1025.4 354.0 1018.7 354.6 1018.0 C355.1 1017.4 358.4 1016.7 359.5 1016.8 C360.7 1016.9 369.1 1019.5 369.9 1019.7"/>
<path class="ln b" d="M397.2 1021.4 C397.4 1021.2 399.4 1018.2 400.0 1018.7 C400.5 1019.1 404.2 1026.9 405.0 1027.4 C405.7 1027.9 408.8 1026.0 409.3 1025.5 C409.8 1025.0 411.8 1021.0 412.0 1020.6"/>
<path class="ln b" d="M440.5 1023.0 C440.8 1023.4 443.9 1027.2 444.9 1027.4 C445.9 1027.6 452.6 1026.3 453.6 1025.5 C454.6 1024.8 457.8 1018.2 458.2 1017.6"/>
<path class="ln b" d="M477.8 1028.8 C478.2 1029.0 482.7 1031.7 483.5 1031.1 C484.3 1030.6 487.8 1022.9 488.5 1021.8 C489.3 1020.7 492.9 1016.4 493.2 1015.9"/>
<path class="ln b" d="M518.5 1021.8 C518.7 1020.8 520.5 1011.1 521.0 1009.3 C521.4 1007.5 523.8 999.0 524.1 998.1"/>
<path class="ln b" d="M531.0 1001.5 C531.1 1002.4 532.6 1011.7 532.8 1013.1 C533.0 1014.4 533.9 1018.6 534.0 1019.0"/>
<path class="ln b" d="M542.4 1006.8 C542.6 1005.8 544.9 996.1 545.3 994.3 C545.7 992.6 548.0 984.0 548.3 983.2"/>
<path class="ln b" d="M558.9 1007.4 C559.1 1008.3 561.1 1017.5 561.5 1019.3 C561.9 1021.1 563.9 1030.3 564.1 1031.2"/>
<path class="ln b" d="M587.1 1013.0 C587.5 1013.7 591.3 1020.7 592.1 1021.8 C592.8 1022.9 596.5 1027.4 597.1 1027.4 C597.6 1027.4 599.5 1021.7 599.7 1021.2"/>
<path class="ln b" d="M603.4 984.9 C603.5 983.9 604.3 973.7 604.6 971.9 C604.8 970.1 606.2 961.6 606.3 960.8"/>
<path class="ln b" d="M660.2 963.7 C660.5 964.6 662.4 973.9 663.1 975.6 C663.7 977.3 668.3 985.4 668.7 986.2"/>
<path class="ln b" d="M686.9 1002.1 C687.2 1003.1 690.6 1014.7 691.1 1014.9 C691.7 1015.1 693.9 1005.4 694.2 1004.6"/>
<path class="ln b" d="M706.8 991.9 C707.2 992.6 711.4 1000.3 712.3 1001.8 C713.3 1003.4 719.2 1011.6 719.8 1012.4"/>
<path class="ln b" d="M745.0 1027.1 C745.3 1027.4 747.7 1030.7 748.5 1031.1 C749.3 1031.6 755.0 1033.7 756.0 1033.7 C757.0 1033.7 761.4 1031.3 762.2 1031.1 C763.1 1031.0 766.5 1031.7 766.9 1031.7"/>
<path class="ln b" d="M800.6 1034.0 C801.6 1034.1 811.6 1034.7 813.4 1034.7 C815.2 1034.7 824.0 1034.1 824.9 1034.0"/>
<path class="ln b" d="M847.5 1016.9 C847.7 1015.7 849.7 1003.1 850.2 1001.8 C850.7 1000.5 853.3 999.5 853.9 999.3 C854.5 999.2 858.0 1000.2 858.4 1000.2"/>
<path class="ln b" d="M866.4 987.5 C866.7 988.2 869.9 996.4 870.8 996.8 C871.7 997.3 877.6 994.4 878.3 993.7 C878.9 993.1 879.9 988.5 880.0 988.1"/>
<path class="ln b" d="M882.6 953.1 C882.6 952.2 883.6 942.5 883.7 940.7 C883.9 938.9 884.3 929.8 884.3 928.9"/>
<path class="ln b" d="M893.1 950.0 C893.1 949.1 893.1 940.0 893.1 938.2 C893.1 936.4 893.1 926.7 893.1 925.7"/>
<path class="ln b" d="M895.2 986.3 C895.4 986.9 896.4 993.2 896.8 994.3 C897.2 995.5 900.1 1001.8 900.6 1001.8 C901.0 1001.8 902.5 994.9 902.7 994.4"/>
<path class="ln b" d="M909.1 1010.6 C909.3 1011.0 910.1 1015.2 910.6 1015.6 C911.0 1015.9 914.2 1015.2 914.9 1015.6 C915.6 1015.9 919.1 1019.1 919.9 1019.9 C920.7 1020.7 924.9 1025.5 925.3 1026.0"/>
<path class="ln b" d="M946.4 1021.1 C946.7 1021.4 948.6 1025.2 949.2 1025.5 C949.9 1025.9 954.1 1027.0 954.9 1026.2 C955.6 1025.3 959.3 1014.6 959.6 1013.6"/>
<path class="ln b" d="M972.4 1012.2 C972.7 1013.0 976.1 1021.2 976.7 1023.0 C977.3 1024.8 980.0 1035.4 980.2 1036.4"/>
<path class="ln b" d="M1000.5 1013.0 C1000.8 1013.4 1004.2 1018.1 1004.8 1019.3 C1005.3 1020.5 1007.8 1027.6 1008.5 1028.7 C1009.2 1029.7 1013.3 1033.0 1013.7 1033.3"/>
<path class="ln b" d="M1042.5 1030.9 C1042.6 1031.2 1042.5 1034.9 1043.4 1034.7 C1044.3 1034.5 1053.1 1029.2 1054.7 1028.7 C1056.2 1028.1 1062.9 1027.1 1063.6 1027.0"/>
<path class="ln b" d="M1088.6 1016.4 C1088.8 1017.0 1090.5 1023.0 1090.8 1024.3 C1091.1 1025.6 1092.0 1032.9 1092.7 1033.7 C1093.4 1034.5 1099.3 1034.5 1099.9 1034.6"/>
<path class="ln b" d="M890.3 879.5 C890.2 880.2 888.8 887.4 888.5 888.6 C888.3 889.7 887.4 894.6 887.3 895.1"/>
<path class="ln b" d="M891.2 880.8 L892.6 892.7"/>
<path class="ln b" d="M1134.6 1034.5 C1135.2 1034.5 1141.1 1034.0 1142.5 1033.7 C1143.8 1033.4 1151.3 1030.7 1152.5 1030.5 C1153.7 1030.4 1158.0 1031.5 1158.5 1031.5"/>
<path class="ln b" d="M1194.1 1034.0 C1194.5 1033.8 1198.9 1031.8 1199.9 1031.8 C1200.9 1031.7 1206.0 1033.5 1207.3 1033.7 C1208.7 1033.9 1217.3 1034.5 1218.1 1034.6"/>
<path class="ln b" d="M1252.9 1033.7 L1277.2 1033.7"/>
<path class="ln b" d="M1312.8 1033.6 C1313.8 1033.5 1324.0 1032.6 1325.9 1032.7 C1327.7 1032.8 1336.2 1034.3 1337.0 1034.5"/>
<path class="ln b" d="M1371.7 1033.7 L1379.7 1033.7"/>
<path class="ln b" d="M1380.3 1034.7 L1397.2 1034.7"/>
<path class="ln b" d="M1421.6 1031.3 C1422.0 1030.8 1425.4 1025.4 1426.2 1024.3 C1426.9 1023.2 1430.5 1017.5 1431.1 1016.8 C1431.8 1016.1 1434.5 1014.4 1434.9 1014.3 C1435.3 1014.2 1436.8 1015.6 1436.9 1015.7"/>
<path class="ln b" d="M1448.4 1018.9 C1448.5 1019.2 1449.4 1024.1 1449.9 1023.7 C1450.3 1023.2 1454.1 1014.0 1454.9 1013.1 C1455.6 1012.1 1460.0 1011.2 1460.5 1011.2 C1460.9 1011.2 1460.8 1012.7 1460.8 1012.8"/>
<path class="ln b" d="M1467.2 997.8 C1467.4 998.4 1469.4 1003.8 1469.8 1005.6 C1470.2 1007.3 1472.4 1020.2 1472.6 1021.4"/>
<path class="ln b" d="M1498.3 1032.9 C1499.1 1033.1 1507.9 1035.3 1509.7 1035.5 C1511.6 1035.7 1521.5 1035.5 1522.4 1035.5"/>
<path class="ln b" d="M1549.6 1031.9 C1549.8 1031.6 1552.7 1028.6 1553.4 1028.0 C1554.1 1027.5 1557.6 1024.3 1558.4 1024.3 C1559.1 1024.3 1562.7 1027.3 1563.4 1028.0 C1564.1 1028.7 1567.1 1033.3 1567.4 1033.7"/>
<path class="ln b" d="M1602.4 1035.5 L1626.7 1035.5"/>
<path class="ln b" d="M1661.0 1031.2 C1661.5 1031.3 1666.3 1031.5 1667.4 1031.8 C1668.6 1032.0 1674.8 1034.5 1676.2 1034.7 C1677.5 1034.9 1684.4 1034.7 1685.1 1034.7"/>
<path class="ln b" d="M1719.9 1035.3 C1720.6 1035.1 1728.0 1033.7 1729.8 1033.7 C1731.6 1033.6 1743.0 1034.5 1744.1 1034.6"/>
<path class="ln b" d="M1778.8 1031.0 C1778.9 1031.0 1780.4 1031.8 1780.9 1031.8 C1781.5 1031.7 1785.3 1030.3 1785.9 1030.5 C1786.6 1030.7 1788.5 1034.3 1789.7 1034.7 C1790.9 1035.1 1800.7 1035.3 1801.6 1035.3"/>
<path class="ln b" d="M1837.3 1036.3 C1837.7 1036.2 1841.3 1036.0 1842.1 1035.5 C1842.9 1034.9 1847.4 1029.4 1848.3 1028.7 C1849.2 1028.0 1853.8 1026.4 1854.6 1026.2 C1855.3 1025.9 1858.4 1025.1 1858.8 1025.0"/>
<path class="ln b" d="M1872.7 1005.5 C1872.9 1005.9 1874.1 1010.4 1874.6 1011.0 C1875.1 1011.6 1878.7 1013.4 1879.5 1013.5 C1880.4 1013.6 1885.5 1012.1 1886.4 1012.3 C1887.2 1012.5 1890.7 1015.7 1891.0 1016.0"/>
<path class="ln b" d="M1909.2 1017.9 C1909.4 1017.7 1910.7 1016.2 1911.1 1016.0 C1911.6 1015.8 1914.8 1014.8 1915.5 1015.4 C1916.1 1015.9 1919.1 1022.3 1919.8 1023.4 C1920.5 1024.5 1924.0 1029.7 1924.3 1030.2"/>
</g>
<text class="tk" transform="translate(131.9 1085.4) scale(0.985 1)" text-anchor="middle">0</text>
<text class="tk" transform="translate(379.7 1085.4) scale(0.985 1)" text-anchor="middle">50</text>
<text class="tk" transform="translate(627.4 1085.4) scale(0.985 1)" text-anchor="middle">100</text>
<text class="tk" transform="translate(875.2 1085.4) scale(0.985 1)" text-anchor="middle">150</text>
<text class="tk" transform="translate(1122.9 1085.4) scale(0.985 1)" text-anchor="middle">200</text>
<text class="tk" transform="translate(1370.7 1085.4) scale(0.985 1)" text-anchor="middle">250</text>
<text class="tk" transform="translate(1618.4 1085.4) scale(0.985 1)" text-anchor="middle">300</text>
<text class="tk" transform="translate(1866.2 1085.4) scale(0.985 1)" text-anchor="middle">350</text>
<text class="tk" transform="translate(117.0 1049.4) scale(0.985 1)" text-anchor="end">0.0</text>
<text class="tk" transform="translate(117.0 958.4) scale(0.985 1)" text-anchor="end">0.8</text>
<text class="tk" transform="translate(117.0 867.4) scale(0.985 1)" text-anchor="end">1.6</text>
<text class="tk" transform="translate(117.0 776.4) scale(0.985 1)" text-anchor="end">2.4</text>
<text class="tk" transform="translate(117.0 685.4) scale(0.985 1)" text-anchor="end">3.2</text>
<text class="tk" transform="translate(117.0 594.4) scale(0.985 1)" text-anchor="end">4.0</text>
<text class="dy" transform="translate(1923.5 1085.6) scale(0.971 1)">Day</text>
<text class="ax" transform="translate(41.0 1068.6) rotate(-90) scale(0.957 1)">Cumulative Error(m<tspan font-size="49px" dy="-3.5">³</tspan><tspan dy="3.5" dx="2.1">/s)</tspan></text>
<text class="pl" style="font-size:85px" x="157.5" y="657.1">b</text>
<line x1="1499.1" y1="639.6" x2="1622.6" y2="639.6" stroke="#66c2a5" stroke-width="6.0" stroke-linecap="round"/>
<text class="lg" transform="translate(1636.2 658.5) scale(0.968 1)">Dongjiang</text>
<line x1="1499.1" y1="708.1" x2="1622.6" y2="708.1" stroke="#fc8d62" stroke-width="6.0" stroke-linecap="round" stroke-dasharray="9.4 17.65"/>
<text class="lg" transform="translate(1636.2 727.0) scale(0.968 1)">Quinebaug</text>
<line x1="1499.1" y1="776.5" x2="1622.6" y2="776.5" stroke="#8da0cb" stroke-width="6.0" stroke-linecap="round" stroke-dasharray="24.2 36.4"/>
<text class="lg" transform="translate(1636.2 795.4) scale(0.968 1)">Housatonic</text>
</g>
</svg>
</body>
</html>
